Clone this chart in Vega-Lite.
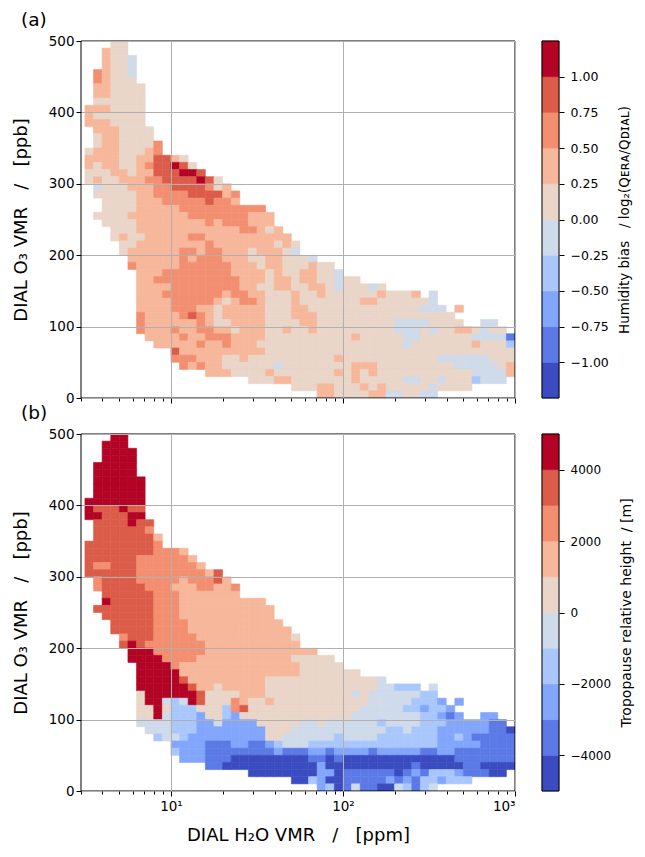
{"$schema":"https://vega.github.io/schema/vega-lite/v6.json","background":"white","padding":{"left":12,"top":10,"right":6,"bottom":6},"bounds":"flush","columns":2,"spacing":{"row":36,"column":27},"config":{"font":"DejaVu Sans","view":{"stroke":null},"axis":{"labelFont":"DejaVu Sans","titleFont":"DejaVu Sans","labelColor":"black","titleColor":"black","tickColor":"black","titleFontWeight":"normal"},"title":{"font":"DejaVu Sans","fontWeight":"normal"}},
"datasets":{"xb":[{"i":0,"x0":3.162,"x1":3.548},{"i":1,"x0":3.548,"x1":3.981},{"i":2,"x0":3.981,"x1":4.467},{"i":3,"x0":4.467,"x1":5.012},{"i":4,"x0":5.012,"x1":5.623},{"i":5,"x0":5.623,"x1":6.31},{"i":6,"x0":6.31,"x1":7.079},{"i":7,"x0":7.079,"x1":7.943},{"i":8,"x0":7.943,"x1":8.913},{"i":9,"x0":8.913,"x1":10},{"i":10,"x0":10,"x1":11.22},{"i":11,"x0":11.22,"x1":12.59},{"i":12,"x0":12.59,"x1":14.13},{"i":13,"x0":14.13,"x1":15.85},{"i":14,"x0":15.85,"x1":17.78},{"i":15,"x0":17.78,"x1":19.95},{"i":16,"x0":19.95,"x1":22.39},{"i":17,"x0":22.39,"x1":25.12},{"i":18,"x0":25.12,"x1":28.18},{"i":19,"x0":28.18,"x1":31.62},{"i":20,"x0":31.62,"x1":35.48},{"i":21,"x0":35.48,"x1":39.81},{"i":22,"x0":39.81,"x1":44.67},{"i":23,"x0":44.67,"x1":50.12},{"i":24,"x0":50.12,"x1":56.23},{"i":25,"x0":56.23,"x1":63.1},{"i":26,"x0":63.1,"x1":70.79},{"i":27,"x0":70.79,"x1":79.43},{"i":28,"x0":79.43,"x1":89.13},{"i":29,"x0":89.13,"x1":100},{"i":30,"x0":100,"x1":112.2},{"i":31,"x0":112.2,"x1":125.9},{"i":32,"x0":125.9,"x1":141.3},{"i":33,"x0":141.3,"x1":158.5},{"i":34,"x0":158.5,"x1":177.8},{"i":35,"x0":177.8,"x1":199.5},{"i":36,"x0":199.5,"x1":223.9},{"i":37,"x0":223.9,"x1":251.2},{"i":38,"x0":251.2,"x1":281.8},{"i":39,"x0":281.8,"x1":316.2},{"i":40,"x0":316.2,"x1":354.8},{"i":41,"x0":354.8,"x1":398.1},{"i":42,"x0":398.1,"x1":446.7},{"i":43,"x0":446.7,"x1":501.2},{"i":44,"x0":501.2,"x1":562.3},{"i":45,"x0":562.3,"x1":631},{"i":46,"x0":631,"x1":707.9},{"i":47,"x0":707.9,"x1":794.3},{"i":48,"x0":794.3,"x1":891.3},{"i":49,"x0":891.3,"x1":1000}],
"yb":[{"j":0,"y0":0,"y1":10},{"j":1,"y0":10,"y1":20},{"j":2,"y0":20,"y1":30},{"j":3,"y0":30,"y1":40},{"j":4,"y0":40,"y1":50},{"j":5,"y0":50,"y1":60},{"j":6,"y0":60,"y1":70},{"j":7,"y0":70,"y1":80},{"j":8,"y0":80,"y1":90},{"j":9,"y0":90,"y1":100},{"j":10,"y0":100,"y1":110},{"j":11,"y0":110,"y1":120},{"j":12,"y0":120,"y1":130},{"j":13,"y0":130,"y1":140},{"j":14,"y0":140,"y1":150},{"j":15,"y0":150,"y1":160},{"j":16,"y0":160,"y1":170},{"j":17,"y0":170,"y1":180},{"j":18,"y0":180,"y1":190},{"j":19,"y0":190,"y1":200},{"j":20,"y0":200,"y1":210},{"j":21,"y0":210,"y1":220},{"j":22,"y0":220,"y1":230},{"j":23,"y0":230,"y1":240},{"j":24,"y0":240,"y1":250},{"j":25,"y0":250,"y1":260},{"j":26,"y0":260,"y1":270},{"j":27,"y0":270,"y1":280},{"j":28,"y0":280,"y1":290},{"j":29,"y0":290,"y1":300},{"j":30,"y0":300,"y1":310},{"j":31,"y0":310,"y1":320},{"j":32,"y0":320,"y1":330},{"j":33,"y0":330,"y1":340},{"j":34,"y0":340,"y1":350},{"j":35,"y0":350,"y1":360},{"j":36,"y0":360,"y1":370},{"j":37,"y0":370,"y1":380},{"j":38,"y0":380,"y1":390},{"j":39,"y0":390,"y1":400},{"j":40,"y0":400,"y1":410},{"j":41,"y0":410,"y1":420},{"j":42,"y0":420,"y1":430},{"j":43,"y0":430,"y1":440},{"j":44,"y0":440,"y1":450},{"j":45,"y0":450,"y1":460},{"j":46,"y0":460,"y1":470},{"j":47,"y0":470,"y1":480},{"j":48,"y0":480,"y1":490},{"j":49,"y0":490,"y1":500}],
"a":[
{"i":3,"j":49,"v":0.125},{"i":4,"j":49,"v":0.125},
{"i":2,"j":48,"v":0.375},{"i":3,"j":48,"v":0.125},{"i":4,"j":48,"v":0.125},
{"i":2,"j":47,"v":0.375},{"i":3,"j":47,"v":0.125},{"i":4,"j":47,"v":0.125},{"i":5,"j":47,"v":-0.125},
{"i":2,"j":46,"v":0.375},{"i":3,"j":46,"v":0.125},{"i":4,"j":46,"v":0.125},{"i":5,"j":46,"v":-0.125},
{"i":1,"j":45,"v":0.625},{"i":2,"j":45,"v":0.375},{"i":3,"j":45,"v":0.125},{"i":4,"j":45,"v":0.125},{"i":5,"j":45,"v":-0.125},
{"i":1,"j":44,"v":0.625},{"i":2,"j":44,"v":0.375},{"i":3,"j":44,"v":0.125},{"i":4,"j":44,"v":0.125},{"i":5,"j":44,"v":0.125},
{"i":1,"j":43,"v":0.375},{"i":2,"j":43,"v":0.375},{"i":3,"j":43,"v":0.125},{"i":4,"j":43,"v":0.125},{"i":5,"j":43,"v":0.125},{"i":6,"j":43,"v":0.125},
{"i":1,"j":42,"v":0.375},{"i":2,"j":42,"v":0.375},{"i":3,"j":42,"v":0.125},{"i":4,"j":42,"v":0.125},{"i":5,"j":42,"v":0.125},{"i":6,"j":42,"v":0.125},
{"i":1,"j":41,"v":0.125},{"i":2,"j":41,"v":0.125},{"i":3,"j":41,"v":0.125},{"i":4,"j":41,"v":0.125},{"i":5,"j":41,"v":0.125},{"i":6,"j":41,"v":0.125},
{"i":0,"j":40,"v":0.375},{"i":1,"j":40,"v":0.375},{"i":2,"j":40,"v":0.375},{"i":3,"j":40,"v":0.125},{"i":4,"j":40,"v":0.125},{"i":5,"j":40,"v":0.125},{"i":6,"j":40,"v":0.125},
{"i":0,"j":39,"v":0.375},{"i":1,"j":39,"v":0.125},{"i":2,"j":39,"v":0.125},{"i":3,"j":39,"v":0.125},{"i":4,"j":39,"v":0.125},{"i":5,"j":39,"v":0.125},{"i":6,"j":39,"v":0.125},
{"i":0,"j":38,"v":0.375},{"i":1,"j":38,"v":0.375},{"i":2,"j":38,"v":0.375},{"i":3,"j":38,"v":0.125},{"i":4,"j":38,"v":0.125},{"i":5,"j":38,"v":0.125},{"i":6,"j":38,"v":0.125},
{"i":1,"j":37,"v":0.375},{"i":2,"j":37,"v":0.375},{"i":3,"j":37,"v":0.375},{"i":4,"j":37,"v":0.125},{"i":5,"j":37,"v":0.125},{"i":6,"j":37,"v":0.125},{"i":7,"j":37,"v":0.125},
{"i":1,"j":36,"v":0.125},{"i":2,"j":36,"v":0.375},{"i":3,"j":36,"v":0.375},{"i":4,"j":36,"v":0.125},{"i":5,"j":36,"v":0.125},{"i":6,"j":36,"v":0.125},{"i":7,"j":36,"v":0.125},
{"i":1,"j":35,"v":0.125},{"i":2,"j":35,"v":0.375},{"i":3,"j":35,"v":0.375},{"i":4,"j":35,"v":0.125},{"i":5,"j":35,"v":0.125},{"i":6,"j":35,"v":0.125},{"i":7,"j":35,"v":0.125},{"i":8,"j":35,"v":0.625},
{"i":0,"j":34,"v":0.125},{"i":1,"j":34,"v":0.375},{"i":2,"j":34,"v":0.375},{"i":3,"j":34,"v":0.375},{"i":4,"j":34,"v":0.125},{"i":5,"j":34,"v":0.125},{"i":6,"j":34,"v":0.125},{"i":7,"j":34,"v":0.375},{"i":8,"j":34,"v":0.625},
{"i":0,"j":33,"v":0.375},{"i":1,"j":33,"v":0.375},{"i":2,"j":33,"v":0.375},{"i":3,"j":33,"v":0.375},{"i":4,"j":33,"v":0.125},{"i":5,"j":33,"v":0.125},{"i":6,"j":33,"v":0.375},{"i":7,"j":33,"v":0.375},{"i":8,"j":33,"v":0.875},{"i":9,"j":33,"v":0.875},{"i":10,"j":33,"v":0.375},{"i":11,"j":33,"v":0.125},
{"i":0,"j":32,"v":0.375},{"i":1,"j":32,"v":0.125},{"i":2,"j":32,"v":0.375},{"i":3,"j":32,"v":0.375},{"i":4,"j":32,"v":0.125},{"i":5,"j":32,"v":0.125},{"i":6,"j":32,"v":0.375},{"i":7,"j":32,"v":0.625},{"i":8,"j":32,"v":0.875},{"i":9,"j":32,"v":0.875},{"i":10,"j":32,"v":1.125},{"i":11,"j":32,"v":0.875},{"i":12,"j":32,"v":0.125},
{"i":0,"j":31,"v":0.125},{"i":1,"j":31,"v":0.125},{"i":2,"j":31,"v":0.125},{"i":3,"j":31,"v":0.375},{"i":4,"j":31,"v":0.375},{"i":5,"j":31,"v":0.125},{"i":6,"j":31,"v":0.375},{"i":7,"j":31,"v":0.375},{"i":8,"j":31,"v":0.875},{"i":9,"j":31,"v":0.875},{"i":10,"j":31,"v":0.875},{"i":11,"j":31,"v":1.125},{"i":12,"j":31,"v":1.125},{"i":13,"j":31,"v":0.875},
{"i":0,"j":30,"v":0.125},{"i":1,"j":30,"v":0.375},{"i":2,"j":30,"v":0.125},{"i":3,"j":30,"v":0.125},{"i":4,"j":30,"v":0.375},{"i":5,"j":30,"v":0.375},{"i":6,"j":30,"v":0.375},{"i":7,"j":30,"v":0.625},{"i":8,"j":30,"v":0.625},{"i":9,"j":30,"v":0.875},{"i":10,"j":30,"v":0.875},{"i":11,"j":30,"v":0.875},{"i":12,"j":30,"v":0.875},{"i":13,"j":30,"v":1.125},{"i":14,"j":30,"v":0.875},{"i":15,"j":30,"v":0.125},
{"i":1,"j":29,"v":-0.125},{"i":2,"j":29,"v":0.125},{"i":3,"j":29,"v":0.125},{"i":4,"j":29,"v":0.125},{"i":5,"j":29,"v":0.375},{"i":6,"j":29,"v":0.375},{"i":7,"j":29,"v":0.375},{"i":8,"j":29,"v":0.625},{"i":9,"j":29,"v":0.625},{"i":10,"j":29,"v":0.875},{"i":11,"j":29,"v":0.875},{"i":12,"j":29,"v":0.875},{"i":13,"j":29,"v":0.875},{"i":14,"j":29,"v":0.625},{"i":15,"j":29,"v":0.125},{"i":16,"j":29,"v":0.375},
{"i":1,"j":28,"v":0.125},{"i":2,"j":28,"v":0.125},{"i":3,"j":28,"v":0.125},{"i":4,"j":28,"v":0.125},{"i":5,"j":28,"v":0.125},{"i":6,"j":28,"v":0.375},{"i":7,"j":28,"v":0.375},{"i":8,"j":28,"v":0.625},{"i":9,"j":28,"v":0.625},{"i":10,"j":28,"v":0.625},{"i":11,"j":28,"v":0.625},{"i":12,"j":28,"v":0.875},{"i":13,"j":28,"v":0.875},{"i":14,"j":28,"v":0.875},{"i":15,"j":28,"v":0.875},{"i":16,"j":28,"v":0.375},{"i":17,"j":28,"v":0.625},
{"i":2,"j":27,"v":0.125},{"i":3,"j":27,"v":0.125},{"i":4,"j":27,"v":0.125},{"i":5,"j":27,"v":0.125},{"i":6,"j":27,"v":0.375},{"i":7,"j":27,"v":0.375},{"i":8,"j":27,"v":0.375},{"i":9,"j":27,"v":0.625},{"i":10,"j":27,"v":0.625},{"i":11,"j":27,"v":0.625},{"i":12,"j":27,"v":0.625},{"i":13,"j":27,"v":0.625},{"i":14,"j":27,"v":0.875},{"i":15,"j":27,"v":0.625},{"i":16,"j":27,"v":0.625},{"i":17,"j":27,"v":0.375},
{"i":2,"j":26,"v":0.125},{"i":3,"j":26,"v":0.125},{"i":4,"j":26,"v":0.125},{"i":5,"j":26,"v":0.125},{"i":6,"j":26,"v":0.375},{"i":7,"j":26,"v":0.375},{"i":8,"j":26,"v":0.375},{"i":9,"j":26,"v":0.375},{"i":10,"j":26,"v":0.375},{"i":11,"j":26,"v":0.625},{"i":12,"j":26,"v":0.625},{"i":13,"j":26,"v":0.625},{"i":14,"j":26,"v":0.625},{"i":15,"j":26,"v":0.625},{"i":16,"j":26,"v":0.625},{"i":17,"j":26,"v":0.625},{"i":18,"j":26,"v":0.625},{"i":19,"j":26,"v":0.625},{"i":20,"j":26,"v":0.625},
{"i":1,"j":25,"v":0.125},{"i":2,"j":25,"v":0.125},{"i":3,"j":25,"v":0.125},{"i":4,"j":25,"v":0.125},{"i":5,"j":25,"v":0.375},{"i":6,"j":25,"v":0.375},{"i":7,"j":25,"v":0.375},{"i":8,"j":25,"v":0.375},{"i":9,"j":25,"v":0.375},{"i":10,"j":25,"v":0.375},{"i":11,"j":25,"v":0.375},{"i":12,"j":25,"v":0.625},{"i":13,"j":25,"v":0.625},{"i":14,"j":25,"v":0.625},{"i":15,"j":25,"v":0.625},{"i":16,"j":25,"v":0.625},{"i":17,"j":25,"v":0.625},{"i":18,"j":25,"v":0.625},{"i":19,"j":25,"v":0.375},{"i":20,"j":25,"v":0.375},{"i":21,"j":25,"v":0.375},
{"i":2,"j":24,"v":0.125},{"i":3,"j":24,"v":0.125},{"i":4,"j":24,"v":0.125},{"i":5,"j":24,"v":0.125},{"i":6,"j":24,"v":0.375},{"i":7,"j":24,"v":0.375},{"i":8,"j":24,"v":0.375},{"i":9,"j":24,"v":0.375},{"i":10,"j":24,"v":0.375},{"i":11,"j":24,"v":0.375},{"i":12,"j":24,"v":0.375},{"i":13,"j":24,"v":0.375},{"i":14,"j":24,"v":0.625},{"i":15,"j":24,"v":0.375},{"i":16,"j":24,"v":0.625},{"i":17,"j":24,"v":0.625},{"i":18,"j":24,"v":0.625},{"i":19,"j":24,"v":0.375},{"i":20,"j":24,"v":0.375},{"i":21,"j":24,"v":0.375},
{"i":3,"j":23,"v":0.125},{"i":4,"j":23,"v":0.125},{"i":5,"j":23,"v":0.125},{"i":6,"j":23,"v":0.375},{"i":7,"j":23,"v":0.375},{"i":8,"j":23,"v":0.375},{"i":9,"j":23,"v":0.375},{"i":10,"j":23,"v":0.375},{"i":11,"j":23,"v":0.375},{"i":12,"j":23,"v":0.375},{"i":13,"j":23,"v":0.375},{"i":14,"j":23,"v":0.375},{"i":15,"j":23,"v":0.375},{"i":16,"j":23,"v":0.375},{"i":17,"j":23,"v":0.375},{"i":18,"j":23,"v":0.625},{"i":19,"j":23,"v":0.625},{"i":20,"j":23,"v":0.375},{"i":21,"j":23,"v":0.125},{"i":22,"j":23,"v":0.375},
{"i":3,"j":22,"v":0.125},{"i":4,"j":22,"v":0.375},{"i":5,"j":22,"v":0.125},{"i":6,"j":22,"v":0.125},{"i":7,"j":22,"v":0.375},{"i":8,"j":22,"v":0.375},{"i":9,"j":22,"v":0.375},{"i":10,"j":22,"v":0.375},{"i":11,"j":22,"v":0.375},{"i":12,"j":22,"v":0.625},{"i":13,"j":22,"v":0.625},{"i":14,"j":22,"v":0.375},{"i":15,"j":22,"v":0.375},{"i":16,"j":22,"v":0.375},{"i":17,"j":22,"v":0.375},{"i":18,"j":22,"v":0.375},{"i":19,"j":22,"v":0.375},{"i":20,"j":22,"v":0.375},{"i":21,"j":22,"v":0.375},{"i":22,"j":22,"v":0.375},{"i":23,"j":22,"v":0.375},
{"i":4,"j":21,"v":0.125},{"i":5,"j":21,"v":0.125},{"i":6,"j":21,"v":0.375},{"i":7,"j":21,"v":0.375},{"i":8,"j":21,"v":0.375},{"i":9,"j":21,"v":0.375},{"i":10,"j":21,"v":0.375},{"i":11,"j":21,"v":0.375},{"i":12,"j":21,"v":0.375},{"i":13,"j":21,"v":0.375},{"i":14,"j":21,"v":0.625},{"i":15,"j":21,"v":0.375},{"i":16,"j":21,"v":0.375},{"i":17,"j":21,"v":0.375},{"i":18,"j":21,"v":0.375},{"i":19,"j":21,"v":0.375},{"i":20,"j":21,"v":0.375},{"i":21,"j":21,"v":0.375},{"i":22,"j":21,"v":0.125},{"i":23,"j":21,"v":0.375},{"i":24,"j":21,"v":0.125},
{"i":4,"j":20,"v":0.125},{"i":5,"j":20,"v":0.375},{"i":6,"j":20,"v":0.375},{"i":7,"j":20,"v":0.375},{"i":8,"j":20,"v":0.375},{"i":9,"j":20,"v":0.375},{"i":10,"j":20,"v":0.375},{"i":11,"j":20,"v":0.625},{"i":12,"j":20,"v":0.625},{"i":13,"j":20,"v":0.375},{"i":14,"j":20,"v":0.625},{"i":15,"j":20,"v":0.625},{"i":16,"j":20,"v":0.375},{"i":17,"j":20,"v":0.375},{"i":18,"j":20,"v":0.375},{"i":19,"j":20,"v":0.125},{"i":20,"j":20,"v":0.375},{"i":21,"j":20,"v":0.375},{"i":22,"j":20,"v":0.375},{"i":23,"j":20,"v":0.125},{"i":24,"j":20,"v":-0.125},
{"i":5,"j":19,"v":0.375},{"i":6,"j":19,"v":0.375},{"i":7,"j":19,"v":0.375},{"i":8,"j":19,"v":0.375},{"i":9,"j":19,"v":0.375},{"i":10,"j":19,"v":0.375},{"i":11,"j":19,"v":0.625},{"i":12,"j":19,"v":0.375},{"i":13,"j":19,"v":0.625},{"i":14,"j":19,"v":0.625},{"i":15,"j":19,"v":0.625},{"i":16,"j":19,"v":0.375},{"i":17,"j":19,"v":0.375},{"i":18,"j":19,"v":0.375},{"i":19,"j":19,"v":0.125},{"i":20,"j":19,"v":0.125},{"i":21,"j":19,"v":0.375},{"i":22,"j":19,"v":0.375},{"i":23,"j":19,"v":0.125},{"i":24,"j":19,"v":0.125},{"i":25,"j":19,"v":0.125},{"i":26,"j":19,"v":-0.125},
{"i":5,"j":18,"v":0.625},{"i":6,"j":18,"v":0.375},{"i":7,"j":18,"v":0.375},{"i":8,"j":18,"v":0.375},{"i":9,"j":18,"v":0.375},{"i":10,"j":18,"v":0.375},{"i":11,"j":18,"v":0.625},{"i":12,"j":18,"v":0.625},{"i":13,"j":18,"v":0.625},{"i":14,"j":18,"v":0.625},{"i":15,"j":18,"v":0.625},{"i":16,"j":18,"v":0.625},{"i":17,"j":18,"v":0.375},{"i":18,"j":18,"v":0.375},{"i":19,"j":18,"v":0.375},{"i":20,"j":18,"v":0.125},{"i":21,"j":18,"v":0.375},{"i":22,"j":18,"v":0.375},{"i":23,"j":18,"v":0.125},{"i":24,"j":18,"v":0.125},{"i":25,"j":18,"v":0.125},{"i":26,"j":18,"v":0.375},{"i":27,"j":18,"v":0.125},{"i":28,"j":18,"v":0.125},
{"i":6,"j":17,"v":0.375},{"i":7,"j":17,"v":0.375},{"i":8,"j":17,"v":0.375},{"i":9,"j":17,"v":0.625},{"i":10,"j":17,"v":0.625},{"i":11,"j":17,"v":0.625},{"i":12,"j":17,"v":0.625},{"i":13,"j":17,"v":0.625},{"i":14,"j":17,"v":0.625},{"i":15,"j":17,"v":0.625},{"i":16,"j":17,"v":0.625},{"i":17,"j":17,"v":0.375},{"i":18,"j":17,"v":0.375},{"i":19,"j":17,"v":0.375},{"i":20,"j":17,"v":0.375},{"i":21,"j":17,"v":0.125},{"i":22,"j":17,"v":0.375},{"i":23,"j":17,"v":0.125},{"i":24,"j":17,"v":0.125},{"i":25,"j":17,"v":0.375},{"i":26,"j":17,"v":0.375},{"i":27,"j":17,"v":0.125},{"i":28,"j":17,"v":0.125},{"i":29,"j":17,"v":-0.125},
{"i":6,"j":16,"v":0.375},{"i":7,"j":16,"v":0.375},{"i":8,"j":16,"v":0.625},{"i":9,"j":16,"v":0.625},{"i":10,"j":16,"v":0.625},{"i":11,"j":16,"v":0.625},{"i":12,"j":16,"v":0.625},{"i":13,"j":16,"v":0.625},{"i":14,"j":16,"v":0.625},{"i":15,"j":16,"v":0.625},{"i":16,"j":16,"v":0.625},{"i":17,"j":16,"v":0.625},{"i":18,"j":16,"v":0.375},{"i":19,"j":16,"v":0.375},{"i":20,"j":16,"v":0.375},{"i":21,"j":16,"v":0.125},{"i":22,"j":16,"v":0.375},{"i":23,"j":16,"v":0.375},{"i":24,"j":16,"v":0.125},{"i":25,"j":16,"v":0.375},{"i":26,"j":16,"v":0.375},{"i":27,"j":16,"v":0.125},{"i":28,"j":16,"v":0.125},{"i":29,"j":16,"v":-0.125},{"i":30,"j":16,"v":0.125},{"i":31,"j":16,"v":0.125},
{"i":6,"j":15,"v":0.375},{"i":7,"j":15,"v":0.375},{"i":8,"j":15,"v":0.375},{"i":9,"j":15,"v":0.375},{"i":10,"j":15,"v":0.625},{"i":11,"j":15,"v":0.625},{"i":12,"j":15,"v":0.625},{"i":13,"j":15,"v":0.625},{"i":14,"j":15,"v":0.625},{"i":15,"j":15,"v":0.625},{"i":16,"j":15,"v":0.625},{"i":17,"j":15,"v":0.625},{"i":18,"j":15,"v":0.375},{"i":19,"j":15,"v":0.375},{"i":20,"j":15,"v":0.125},{"i":21,"j":15,"v":0.125},{"i":22,"j":15,"v":0.375},{"i":23,"j":15,"v":0.375},{"i":24,"j":15,"v":0.125},{"i":25,"j":15,"v":0.125},{"i":26,"j":15,"v":0.375},{"i":27,"j":15,"v":0.375},{"i":28,"j":15,"v":0.125},{"i":29,"j":15,"v":-0.125},{"i":30,"j":15,"v":0.125},{"i":31,"j":15,"v":0.125},{"i":32,"j":15,"v":0.125},{"i":33,"j":15,"v":-0.125},{"i":34,"j":15,"v":0.125},
{"i":6,"j":14,"v":0.375},{"i":7,"j":14,"v":0.375},{"i":8,"j":14,"v":0.375},{"i":9,"j":14,"v":0.625},{"i":10,"j":14,"v":0.625},{"i":11,"j":14,"v":0.625},{"i":12,"j":14,"v":0.625},{"i":13,"j":14,"v":0.625},{"i":14,"j":14,"v":0.625},{"i":15,"j":14,"v":0.625},{"i":16,"j":14,"v":0.375},{"i":17,"j":14,"v":0.625},{"i":18,"j":14,"v":0.625},{"i":19,"j":14,"v":0.375},{"i":20,"j":14,"v":0.375},{"i":21,"j":14,"v":0.125},{"i":22,"j":14,"v":0.125},{"i":23,"j":14,"v":0.125},{"i":24,"j":14,"v":0.375},{"i":25,"j":14,"v":0.125},{"i":26,"j":14,"v":0.125},{"i":27,"j":14,"v":0.375},{"i":28,"j":14,"v":0.125},{"i":29,"j":14,"v":0.125},{"i":30,"j":14,"v":0.125},{"i":31,"j":14,"v":0.125},{"i":32,"j":14,"v":0.125},{"i":33,"j":14,"v":0.125},{"i":34,"j":14,"v":0.375},{"i":35,"j":14,"v":0.125},{"i":36,"j":14,"v":0.125},{"i":37,"j":14,"v":0.125},{"i":38,"j":14,"v":0.375},{"i":40,"j":14,"v":-0.125},
{"i":6,"j":13,"v":0.375},{"i":7,"j":13,"v":0.375},{"i":8,"j":13,"v":0.375},{"i":9,"j":13,"v":0.375},{"i":10,"j":13,"v":0.625},{"i":11,"j":13,"v":0.625},{"i":12,"j":13,"v":0.625},{"i":13,"j":13,"v":0.625},{"i":14,"j":13,"v":0.625},{"i":15,"j":13,"v":0.375},{"i":16,"j":13,"v":0.125},{"i":17,"j":13,"v":0.375},{"i":18,"j":13,"v":0.625},{"i":19,"j":13,"v":0.625},{"i":20,"j":13,"v":0.375},{"i":21,"j":13,"v":0.125},{"i":22,"j":13,"v":0.125},{"i":23,"j":13,"v":0.125},{"i":24,"j":13,"v":0.375},{"i":25,"j":13,"v":0.125},{"i":26,"j":13,"v":0.125},{"i":27,"j":13,"v":0.125},{"i":28,"j":13,"v":0.125},{"i":29,"j":13,"v":0.125},{"i":30,"j":13,"v":0.125},{"i":31,"j":13,"v":0.125},{"i":32,"j":13,"v":0.375},{"i":33,"j":13,"v":0.375},{"i":34,"j":13,"v":0.125},{"i":35,"j":13,"v":0.125},{"i":36,"j":13,"v":0.125},{"i":37,"j":13,"v":0.125},{"i":38,"j":13,"v":0.125},{"i":39,"j":13,"v":0.125},{"i":40,"j":13,"v":-0.125},
{"i":6,"j":12,"v":0.375},{"i":7,"j":12,"v":0.375},{"i":8,"j":12,"v":0.375},{"i":9,"j":12,"v":0.375},{"i":10,"j":12,"v":0.625},{"i":11,"j":12,"v":0.625},{"i":12,"j":12,"v":0.625},{"i":13,"j":12,"v":0.375},{"i":14,"j":12,"v":0.375},{"i":15,"j":12,"v":0.125},{"i":16,"j":12,"v":0.375},{"i":17,"j":12,"v":0.375},{"i":18,"j":12,"v":0.375},{"i":19,"j":12,"v":0.375},{"i":20,"j":12,"v":0.375},{"i":21,"j":12,"v":0.125},{"i":22,"j":12,"v":0.125},{"i":23,"j":12,"v":0.125},{"i":24,"j":12,"v":0.375},{"i":25,"j":12,"v":0.375},{"i":26,"j":12,"v":0.125},{"i":27,"j":12,"v":0.125},{"i":28,"j":12,"v":0.125},{"i":29,"j":12,"v":0.125},{"i":30,"j":12,"v":0.125},{"i":31,"j":12,"v":0.125},{"i":32,"j":12,"v":0.125},{"i":33,"j":12,"v":0.125},{"i":34,"j":12,"v":0.125},{"i":35,"j":12,"v":0.125},{"i":36,"j":12,"v":0.125},{"i":37,"j":12,"v":0.125},{"i":38,"j":12,"v":0.125},{"i":39,"j":12,"v":-0.125},{"i":40,"j":12,"v":-0.125},{"i":41,"j":12,"v":-0.125},{"i":43,"j":12,"v":0.375},
{"i":6,"j":11,"v":0.625},{"i":7,"j":11,"v":0.375},{"i":8,"j":11,"v":0.375},{"i":9,"j":11,"v":0.375},{"i":10,"j":11,"v":0.375},{"i":11,"j":11,"v":0.625},{"i":12,"j":11,"v":0.875},{"i":13,"j":11,"v":0.625},{"i":14,"j":11,"v":0.375},{"i":15,"j":11,"v":0.125},{"i":16,"j":11,"v":0.375},{"i":17,"j":11,"v":0.375},{"i":18,"j":11,"v":0.375},{"i":19,"j":11,"v":0.375},{"i":20,"j":11,"v":0.375},{"i":21,"j":11,"v":0.125},{"i":22,"j":11,"v":0.125},{"i":23,"j":11,"v":0.125},{"i":24,"j":11,"v":0.375},{"i":25,"j":11,"v":0.375},{"i":26,"j":11,"v":0.375},{"i":27,"j":11,"v":0.125},{"i":28,"j":11,"v":0.125},{"i":29,"j":11,"v":0.125},{"i":30,"j":11,"v":0.125},{"i":31,"j":11,"v":0.125},{"i":32,"j":11,"v":0.125},{"i":33,"j":11,"v":0.125},{"i":34,"j":11,"v":0.125},{"i":35,"j":11,"v":0.125},{"i":36,"j":11,"v":0.125},{"i":37,"j":11,"v":0.125},{"i":38,"j":11,"v":0.125},{"i":39,"j":11,"v":0.125},{"i":40,"j":11,"v":0.125},{"i":41,"j":11,"v":0.125},{"i":42,"j":11,"v":0.125},
{"i":6,"j":10,"v":0.625},{"i":7,"j":10,"v":0.375},{"i":8,"j":10,"v":0.375},{"i":9,"j":10,"v":0.375},{"i":10,"j":10,"v":0.375},{"i":11,"j":10,"v":0.375},{"i":12,"j":10,"v":0.375},{"i":13,"j":10,"v":0.625},{"i":14,"j":10,"v":0.375},{"i":15,"j":10,"v":0.125},{"i":16,"j":10,"v":0.125},{"i":17,"j":10,"v":0.375},{"i":18,"j":10,"v":0.375},{"i":19,"j":10,"v":0.375},{"i":20,"j":10,"v":0.375},{"i":21,"j":10,"v":0.125},{"i":22,"j":10,"v":0.125},{"i":23,"j":10,"v":0.125},{"i":24,"j":10,"v":0.125},{"i":25,"j":10,"v":0.375},{"i":26,"j":10,"v":0.375},{"i":27,"j":10,"v":0.125},{"i":28,"j":10,"v":0.125},{"i":29,"j":10,"v":0.125},{"i":30,"j":10,"v":0.125},{"i":31,"j":10,"v":0.125},{"i":32,"j":10,"v":0.125},{"i":33,"j":10,"v":0.125},{"i":34,"j":10,"v":0.125},{"i":35,"j":10,"v":0.125},{"i":36,"j":10,"v":-0.125},{"i":37,"j":10,"v":-0.125},{"i":38,"j":10,"v":-0.125},{"i":39,"j":10,"v":-0.125},{"i":40,"j":10,"v":0.125},{"i":41,"j":10,"v":0.125},{"i":42,"j":10,"v":0.125},{"i":43,"j":10,"v":0.125},{"i":46,"j":10,"v":-0.125},{"i":47,"j":10,"v":-0.125},
{"i":6,"j":9,"v":0.625},{"i":7,"j":9,"v":0.375},{"i":8,"j":9,"v":0.375},{"i":9,"j":9,"v":0.375},{"i":10,"j":9,"v":0.625},{"i":11,"j":9,"v":0.375},{"i":12,"j":9,"v":0.375},{"i":13,"j":9,"v":0.625},{"i":14,"j":9,"v":0.625},{"i":15,"j":9,"v":0.375},{"i":16,"j":9,"v":0.375},{"i":17,"j":9,"v":0.125},{"i":18,"j":9,"v":0.375},{"i":19,"j":9,"v":0.375},{"i":20,"j":9,"v":0.375},{"i":21,"j":9,"v":0.125},{"i":22,"j":9,"v":0.125},{"i":23,"j":9,"v":0.375},{"i":24,"j":9,"v":0.125},{"i":25,"j":9,"v":0.125},{"i":26,"j":9,"v":0.375},{"i":27,"j":9,"v":0.125},{"i":28,"j":9,"v":0.125},{"i":29,"j":9,"v":0.125},{"i":30,"j":9,"v":0.125},{"i":31,"j":9,"v":0.125},{"i":32,"j":9,"v":0.125},{"i":33,"j":9,"v":0.125},{"i":34,"j":9,"v":0.125},{"i":35,"j":9,"v":0.125},{"i":36,"j":9,"v":-0.125},{"i":37,"j":9,"v":-0.125},{"i":38,"j":9,"v":-0.125},{"i":39,"j":9,"v":0.125},{"i":40,"j":9,"v":-0.125},{"i":41,"j":9,"v":0.125},{"i":42,"j":9,"v":0.125},{"i":43,"j":9,"v":0.375},{"i":44,"j":9,"v":0.375},{"i":45,"j":9,"v":0.125},{"i":46,"j":9,"v":-0.125},{"i":47,"j":9,"v":0.125},{"i":48,"j":9,"v":0.125},
{"i":7,"j":8,"v":0.375},{"i":8,"j":8,"v":0.375},{"i":9,"j":8,"v":0.375},{"i":10,"j":8,"v":0.375},{"i":11,"j":8,"v":0.625},{"i":12,"j":8,"v":0.375},{"i":13,"j":8,"v":0.375},{"i":14,"j":8,"v":0.625},{"i":15,"j":8,"v":0.625},{"i":16,"j":8,"v":0.625},{"i":17,"j":8,"v":0.375},{"i":18,"j":8,"v":0.375},{"i":19,"j":8,"v":0.375},{"i":20,"j":8,"v":0.375},{"i":21,"j":8,"v":0.125},{"i":22,"j":8,"v":0.125},{"i":23,"j":8,"v":0.125},{"i":24,"j":8,"v":0.125},{"i":25,"j":8,"v":0.125},{"i":26,"j":8,"v":0.125},{"i":27,"j":8,"v":0.125},{"i":28,"j":8,"v":0.125},{"i":29,"j":8,"v":0.125},{"i":30,"j":8,"v":0.125},{"i":31,"j":8,"v":0.375},{"i":32,"j":8,"v":0.125},{"i":33,"j":8,"v":0.125},{"i":34,"j":8,"v":0.125},{"i":35,"j":8,"v":0.125},{"i":36,"j":8,"v":0.125},{"i":37,"j":8,"v":-0.125},{"i":38,"j":8,"v":-0.125},{"i":39,"j":8,"v":0.125},{"i":40,"j":8,"v":0.125},{"i":41,"j":8,"v":0.125},{"i":42,"j":8,"v":0.125},{"i":43,"j":8,"v":0.125},{"i":44,"j":8,"v":0.125},{"i":45,"j":8,"v":-0.125},{"i":46,"j":8,"v":-0.125},{"i":47,"j":8,"v":-0.125},{"i":48,"j":8,"v":-0.125},{"i":49,"j":8,"v":-0.875},
{"i":8,"j":7,"v":0.375},{"i":9,"j":7,"v":0.375},{"i":10,"j":7,"v":0.375},{"i":11,"j":7,"v":0.375},{"i":12,"j":7,"v":0.375},{"i":13,"j":7,"v":0.625},{"i":14,"j":7,"v":0.375},{"i":15,"j":7,"v":0.375},{"i":16,"j":7,"v":0.625},{"i":17,"j":7,"v":0.375},{"i":18,"j":7,"v":0.375},{"i":19,"j":7,"v":0.375},{"i":20,"j":7,"v":0.125},{"i":21,"j":7,"v":0.125},{"i":22,"j":7,"v":0.125},{"i":23,"j":7,"v":0.125},{"i":24,"j":7,"v":0.125},{"i":25,"j":7,"v":0.125},{"i":26,"j":7,"v":0.125},{"i":27,"j":7,"v":0.125},{"i":28,"j":7,"v":0.125},{"i":29,"j":7,"v":0.125},{"i":30,"j":7,"v":0.125},{"i":31,"j":7,"v":0.125},{"i":32,"j":7,"v":0.125},{"i":33,"j":7,"v":0.125},{"i":34,"j":7,"v":0.125},{"i":35,"j":7,"v":0.125},{"i":36,"j":7,"v":0.125},{"i":37,"j":7,"v":-0.125},{"i":38,"j":7,"v":0.125},{"i":39,"j":7,"v":0.125},{"i":40,"j":7,"v":0.125},{"i":41,"j":7,"v":0.125},{"i":42,"j":7,"v":0.125},{"i":43,"j":7,"v":0.125},{"i":44,"j":7,"v":0.125},{"i":45,"j":7,"v":0.375},{"i":46,"j":7,"v":0.125},{"i":47,"j":7,"v":0.125},{"i":48,"j":7,"v":0.125},{"i":49,"j":7,"v":-0.375},
{"i":10,"j":6,"v":0.875},{"i":11,"j":6,"v":0.375},{"i":12,"j":6,"v":0.375},{"i":13,"j":6,"v":0.375},{"i":14,"j":6,"v":0.375},{"i":15,"j":6,"v":0.375},{"i":16,"j":6,"v":0.375},{"i":17,"j":6,"v":0.375},{"i":18,"j":6,"v":0.375},{"i":19,"j":6,"v":0.375},{"i":20,"j":6,"v":0.375},{"i":21,"j":6,"v":0.125},{"i":22,"j":6,"v":0.125},{"i":23,"j":6,"v":0.125},{"i":24,"j":6,"v":0.125},{"i":25,"j":6,"v":0.125},{"i":26,"j":6,"v":0.125},{"i":27,"j":6,"v":0.125},{"i":28,"j":6,"v":0.125},{"i":29,"j":6,"v":0.125},{"i":30,"j":6,"v":0.125},{"i":31,"j":6,"v":0.125},{"i":32,"j":6,"v":0.125},{"i":33,"j":6,"v":0.125},{"i":34,"j":6,"v":0.125},{"i":35,"j":6,"v":0.125},{"i":36,"j":6,"v":0.125},{"i":37,"j":6,"v":0.125},{"i":38,"j":6,"v":0.125},{"i":39,"j":6,"v":0.125},{"i":40,"j":6,"v":0.125},{"i":41,"j":6,"v":0.125},{"i":42,"j":6,"v":0.125},{"i":43,"j":6,"v":0.125},{"i":44,"j":6,"v":0.125},{"i":45,"j":6,"v":0.125},{"i":46,"j":6,"v":0.125},{"i":47,"j":6,"v":0.125},{"i":48,"j":6,"v":0.125},{"i":49,"j":6,"v":0.125},
{"i":10,"j":5,"v":0.625},{"i":11,"j":5,"v":0.625},{"i":12,"j":5,"v":0.625},{"i":13,"j":5,"v":0.375},{"i":14,"j":5,"v":0.375},{"i":15,"j":5,"v":0.375},{"i":16,"j":5,"v":0.125},{"i":17,"j":5,"v":0.125},{"i":18,"j":5,"v":0.375},{"i":19,"j":5,"v":0.125},{"i":20,"j":5,"v":0.125},{"i":21,"j":5,"v":0.125},{"i":22,"j":5,"v":0.125},{"i":23,"j":5,"v":0.125},{"i":24,"j":5,"v":0.125},{"i":25,"j":5,"v":0.125},{"i":26,"j":5,"v":0.125},{"i":27,"j":5,"v":0.125},{"i":28,"j":5,"v":0.125},{"i":29,"j":5,"v":0.375},{"i":30,"j":5,"v":0.125},{"i":31,"j":5,"v":0.125},{"i":32,"j":5,"v":0.125},{"i":33,"j":5,"v":0.125},{"i":34,"j":5,"v":0.125},{"i":35,"j":5,"v":0.125},{"i":36,"j":5,"v":0.125},{"i":37,"j":5,"v":0.125},{"i":38,"j":5,"v":0.125},{"i":39,"j":5,"v":0.125},{"i":40,"j":5,"v":0.125},{"i":41,"j":5,"v":-0.125},{"i":42,"j":5,"v":-0.125},{"i":43,"j":5,"v":-0.125},{"i":44,"j":5,"v":-0.125},{"i":45,"j":5,"v":-0.125},{"i":46,"j":5,"v":-0.125},{"i":47,"j":5,"v":0.125},{"i":48,"j":5,"v":0.125},{"i":49,"j":5,"v":0.125},
{"i":11,"j":4,"v":0.625},{"i":12,"j":4,"v":0.375},{"i":13,"j":4,"v":0.625},{"i":14,"j":4,"v":0.375},{"i":15,"j":4,"v":0.375},{"i":16,"j":4,"v":0.125},{"i":17,"j":4,"v":0.125},{"i":18,"j":4,"v":0.125},{"i":19,"j":4,"v":0.125},{"i":20,"j":4,"v":0.125},{"i":21,"j":4,"v":0.125},{"i":22,"j":4,"v":-0.125},{"i":23,"j":4,"v":0.125},{"i":24,"j":4,"v":0.125},{"i":25,"j":4,"v":0.125},{"i":26,"j":4,"v":0.125},{"i":27,"j":4,"v":0.125},{"i":28,"j":4,"v":0.125},{"i":29,"j":4,"v":0.125},{"i":30,"j":4,"v":0.125},{"i":31,"j":4,"v":0.375},{"i":32,"j":4,"v":0.375},{"i":33,"j":4,"v":0.375},{"i":34,"j":4,"v":0.125},{"i":35,"j":4,"v":0.125},{"i":36,"j":4,"v":0.125},{"i":37,"j":4,"v":0.125},{"i":38,"j":4,"v":0.125},{"i":39,"j":4,"v":0.125},{"i":40,"j":4,"v":0.125},{"i":41,"j":4,"v":0.125},{"i":42,"j":4,"v":0.125},{"i":43,"j":4,"v":-0.125},{"i":44,"j":4,"v":-0.125},{"i":45,"j":4,"v":-0.125},{"i":46,"j":4,"v":-0.125},{"i":47,"j":4,"v":-0.125},{"i":48,"j":4,"v":0.125},{"i":49,"j":4,"v":0.375},
{"i":14,"j":3,"v":0.375},{"i":15,"j":3,"v":0.375},{"i":16,"j":3,"v":0.375},{"i":17,"j":3,"v":0.125},{"i":18,"j":3,"v":0.125},{"i":19,"j":3,"v":0.125},{"i":20,"j":3,"v":0.125},{"i":21,"j":3,"v":0.375},{"i":22,"j":3,"v":0.125},{"i":23,"j":3,"v":0.125},{"i":24,"j":3,"v":0.125},{"i":25,"j":3,"v":0.125},{"i":26,"j":3,"v":0.125},{"i":27,"j":3,"v":0.125},{"i":28,"j":3,"v":0.125},{"i":29,"j":3,"v":0.375},{"i":30,"j":3,"v":0.125},{"i":31,"j":3,"v":0.375},{"i":32,"j":3,"v":0.125},{"i":33,"j":3,"v":0.375},{"i":34,"j":3,"v":0.125},{"i":35,"j":3,"v":0.125},{"i":36,"j":3,"v":0.125},{"i":37,"j":3,"v":0.125},{"i":38,"j":3,"v":0.125},{"i":39,"j":3,"v":0.125},{"i":40,"j":3,"v":0.125},{"i":41,"j":3,"v":0.125},{"i":42,"j":3,"v":0.125},{"i":43,"j":3,"v":0.125},{"i":44,"j":3,"v":0.125},{"i":45,"j":3,"v":-0.125},{"i":46,"j":3,"v":-0.125},{"i":47,"j":3,"v":-0.125},{"i":48,"j":3,"v":-0.125},{"i":49,"j":3,"v":0.375},
{"i":19,"j":2,"v":0.125},{"i":20,"j":2,"v":0.125},{"i":21,"j":2,"v":0.125},{"i":22,"j":2,"v":0.375},{"i":23,"j":2,"v":0.375},{"i":24,"j":2,"v":0.125},{"i":25,"j":2,"v":0.125},{"i":26,"j":2,"v":0.125},{"i":27,"j":2,"v":0.125},{"i":28,"j":2,"v":0.125},{"i":29,"j":2,"v":0.125},{"i":30,"j":2,"v":0.125},{"i":31,"j":2,"v":0.375},{"i":32,"j":2,"v":0.125},{"i":33,"j":2,"v":0.125},{"i":34,"j":2,"v":0.125},{"i":35,"j":2,"v":0.125},{"i":36,"j":2,"v":0.125},{"i":37,"j":2,"v":-0.125},{"i":38,"j":2,"v":-0.125},{"i":39,"j":2,"v":0.125},{"i":40,"j":2,"v":0.125},{"i":41,"j":2,"v":-0.125},{"i":42,"j":2,"v":0.125},{"i":43,"j":2,"v":0.125},{"i":44,"j":2,"v":0.125},{"i":45,"j":2,"v":-0.375},{"i":46,"j":2,"v":-0.125},{"i":47,"j":2,"v":-0.125},{"i":48,"j":2,"v":-0.125},
{"i":24,"j":1,"v":0.125},{"i":25,"j":1,"v":0.125},{"i":26,"j":1,"v":0.125},{"i":27,"j":1,"v":0.375},{"i":28,"j":1,"v":0.375},{"i":29,"j":1,"v":0.125},{"i":30,"j":1,"v":0.125},{"i":31,"j":1,"v":0.125},{"i":32,"j":1,"v":0.375},{"i":33,"j":1,"v":0.125},{"i":34,"j":1,"v":0.375},{"i":35,"j":1,"v":0.125},{"i":36,"j":1,"v":0.125},{"i":37,"j":1,"v":0.125},{"i":38,"j":1,"v":0.125},{"i":39,"j":1,"v":0.125},{"i":40,"j":1,"v":-0.125},{"i":41,"j":1,"v":0.125},{"i":42,"j":1,"v":0.125},{"i":43,"j":1,"v":0.125},{"i":44,"j":1,"v":0.125},
{"i":27,"j":0,"v":0.375},{"i":28,"j":0,"v":0.375},{"i":29,"j":0,"v":0.125},{"i":30,"j":0,"v":0.125},{"i":31,"j":0,"v":0.125},{"i":32,"j":0,"v":0.125},{"i":33,"j":0,"v":0.375},{"i":34,"j":0,"v":0.375},{"i":35,"j":0,"v":-0.125},{"i":36,"j":0,"v":-0.125},{"i":37,"j":0,"v":0.125},{"i":38,"j":0,"v":0.125},{"i":39,"j":0,"v":-0.125},{"i":40,"j":0,"v":-0.125}
],
"b":[
{"i":3,"j":49,"v":4500},{"i":4,"j":49,"v":4500},
{"i":2,"j":48,"v":4500},{"i":3,"j":48,"v":4500},{"i":4,"j":48,"v":4500},
{"i":2,"j":47,"v":4500},{"i":3,"j":47,"v":4500},{"i":4,"j":47,"v":4500},{"i":5,"j":47,"v":4500},
{"i":2,"j":46,"v":4500},{"i":3,"j":46,"v":4500},{"i":4,"j":46,"v":4500},{"i":5,"j":46,"v":4500},
{"i":1,"j":45,"v":4500},{"i":2,"j":45,"v":4500},{"i":3,"j":45,"v":4500},{"i":4,"j":45,"v":4500},{"i":5,"j":45,"v":4500},
{"i":1,"j":44,"v":4500},{"i":2,"j":44,"v":4500},{"i":3,"j":44,"v":4500},{"i":4,"j":44,"v":4500},{"i":5,"j":44,"v":4500},
{"i":1,"j":43,"v":4500},{"i":2,"j":43,"v":4500},{"i":3,"j":43,"v":4500},{"i":4,"j":43,"v":4500},{"i":5,"j":43,"v":4500},{"i":6,"j":43,"v":4500},
{"i":1,"j":42,"v":4500},{"i":2,"j":42,"v":4500},{"i":3,"j":42,"v":4500},{"i":4,"j":42,"v":4500},{"i":5,"j":42,"v":4500},{"i":6,"j":42,"v":4500},
{"i":1,"j":41,"v":4500},{"i":2,"j":41,"v":4500},{"i":3,"j":41,"v":4500},{"i":4,"j":41,"v":4500},{"i":5,"j":41,"v":4500},{"i":6,"j":41,"v":4500},
{"i":0,"j":40,"v":4500},{"i":1,"j":40,"v":4500},{"i":2,"j":40,"v":4500},{"i":3,"j":40,"v":4500},{"i":4,"j":40,"v":4500},{"i":5,"j":40,"v":4500},{"i":6,"j":40,"v":4500},
{"i":0,"j":39,"v":4500},{"i":1,"j":39,"v":3500},{"i":2,"j":39,"v":3500},{"i":3,"j":39,"v":3500},{"i":4,"j":39,"v":4500},{"i":5,"j":39,"v":3500},{"i":6,"j":39,"v":3500},
{"i":0,"j":38,"v":4500},{"i":1,"j":38,"v":4500},{"i":2,"j":38,"v":3500},{"i":3,"j":38,"v":3500},{"i":4,"j":38,"v":3500},{"i":5,"j":38,"v":4500},{"i":6,"j":38,"v":4500},
{"i":1,"j":37,"v":3500},{"i":2,"j":37,"v":3500},{"i":3,"j":37,"v":3500},{"i":4,"j":37,"v":3500},{"i":5,"j":37,"v":4500},{"i":6,"j":37,"v":3500},{"i":7,"j":37,"v":3500},
{"i":1,"j":36,"v":3500},{"i":2,"j":36,"v":3500},{"i":3,"j":36,"v":3500},{"i":4,"j":36,"v":3500},{"i":5,"j":36,"v":3500},{"i":6,"j":36,"v":3500},{"i":7,"j":36,"v":2500},
{"i":1,"j":35,"v":3500},{"i":2,"j":35,"v":3500},{"i":3,"j":35,"v":3500},{"i":4,"j":35,"v":3500},{"i":5,"j":35,"v":3500},{"i":6,"j":35,"v":3500},{"i":7,"j":35,"v":3500},{"i":8,"j":35,"v":1500},
{"i":0,"j":34,"v":3500},{"i":1,"j":34,"v":3500},{"i":2,"j":34,"v":3500},{"i":3,"j":34,"v":3500},{"i":4,"j":34,"v":3500},{"i":5,"j":34,"v":3500},{"i":6,"j":34,"v":3500},{"i":7,"j":34,"v":3500},{"i":8,"j":34,"v":2500},
{"i":0,"j":33,"v":3500},{"i":1,"j":33,"v":3500},{"i":2,"j":33,"v":3500},{"i":3,"j":33,"v":3500},{"i":4,"j":33,"v":3500},{"i":5,"j":33,"v":3500},{"i":6,"j":33,"v":3500},{"i":7,"j":33,"v":3500},{"i":8,"j":33,"v":2500},{"i":9,"j":33,"v":2500},{"i":10,"j":33,"v":2500},{"i":11,"j":33,"v":1500},
{"i":0,"j":32,"v":3500},{"i":1,"j":32,"v":3500},{"i":2,"j":32,"v":3500},{"i":3,"j":32,"v":3500},{"i":4,"j":32,"v":3500},{"i":5,"j":32,"v":3500},{"i":6,"j":32,"v":2500},{"i":7,"j":32,"v":2500},{"i":8,"j":32,"v":2500},{"i":9,"j":32,"v":2500},{"i":10,"j":32,"v":2500},{"i":11,"j":32,"v":2500},{"i":12,"j":32,"v":1500},
{"i":0,"j":31,"v":3500},{"i":1,"j":31,"v":2500},{"i":2,"j":31,"v":2500},{"i":3,"j":31,"v":3500},{"i":4,"j":31,"v":3500},{"i":5,"j":31,"v":3500},{"i":6,"j":31,"v":2500},{"i":7,"j":31,"v":2500},{"i":8,"j":31,"v":2500},{"i":9,"j":31,"v":2500},{"i":10,"j":31,"v":2500},{"i":11,"j":31,"v":2500},{"i":12,"j":31,"v":2500},{"i":13,"j":31,"v":1500},
{"i":0,"j":30,"v":3500},{"i":1,"j":30,"v":3500},{"i":2,"j":30,"v":3500},{"i":3,"j":30,"v":3500},{"i":4,"j":30,"v":3500},{"i":5,"j":30,"v":3500},{"i":6,"j":30,"v":2500},{"i":7,"j":30,"v":2500},{"i":8,"j":30,"v":2500},{"i":9,"j":30,"v":2500},{"i":10,"j":30,"v":2500},{"i":11,"j":30,"v":2500},{"i":12,"j":30,"v":2500},{"i":13,"j":30,"v":2500},{"i":14,"j":30,"v":1500},{"i":15,"j":30,"v":3500},
{"i":1,"j":29,"v":2500},{"i":2,"j":29,"v":3500},{"i":3,"j":29,"v":3500},{"i":4,"j":29,"v":3500},{"i":5,"j":29,"v":3500},{"i":6,"j":29,"v":2500},{"i":7,"j":29,"v":2500},{"i":8,"j":29,"v":2500},{"i":9,"j":29,"v":2500},{"i":10,"j":29,"v":2500},{"i":11,"j":29,"v":1500},{"i":12,"j":29,"v":2500},{"i":13,"j":29,"v":2500},{"i":14,"j":29,"v":2500},{"i":15,"j":29,"v":3500},{"i":16,"j":29,"v":1500},
{"i":1,"j":28,"v":2500},{"i":2,"j":28,"v":3500},{"i":3,"j":28,"v":3500},{"i":4,"j":28,"v":3500},{"i":5,"j":28,"v":3500},{"i":6,"j":28,"v":3500},{"i":7,"j":28,"v":2500},{"i":8,"j":28,"v":2500},{"i":9,"j":28,"v":2500},{"i":10,"j":28,"v":1500},{"i":11,"j":28,"v":1500},{"i":12,"j":28,"v":1500},{"i":13,"j":28,"v":2500},{"i":14,"j":28,"v":2500},{"i":15,"j":28,"v":1500},{"i":16,"j":28,"v":1500},{"i":17,"j":28,"v":2500},
{"i":2,"j":27,"v":3500},{"i":3,"j":27,"v":3500},{"i":4,"j":27,"v":3500},{"i":5,"j":27,"v":3500},{"i":6,"j":27,"v":3500},{"i":7,"j":27,"v":3500},{"i":8,"j":27,"v":2500},{"i":9,"j":27,"v":2500},{"i":10,"j":27,"v":2500},{"i":11,"j":27,"v":1500},{"i":12,"j":27,"v":1500},{"i":13,"j":27,"v":1500},{"i":14,"j":27,"v":1500},{"i":15,"j":27,"v":1500},{"i":16,"j":27,"v":1500},{"i":17,"j":27,"v":1500},
{"i":2,"j":26,"v":4500},{"i":3,"j":26,"v":3500},{"i":4,"j":26,"v":3500},{"i":5,"j":26,"v":3500},{"i":6,"j":26,"v":3500},{"i":7,"j":26,"v":3500},{"i":8,"j":26,"v":2500},{"i":9,"j":26,"v":2500},{"i":10,"j":26,"v":2500},{"i":11,"j":26,"v":1500},{"i":12,"j":26,"v":1500},{"i":13,"j":26,"v":1500},{"i":14,"j":26,"v":1500},{"i":15,"j":26,"v":1500},{"i":16,"j":26,"v":1500},{"i":17,"j":26,"v":1500},{"i":18,"j":26,"v":1500},{"i":19,"j":26,"v":1500},{"i":20,"j":26,"v":1500},
{"i":1,"j":25,"v":3500},{"i":2,"j":25,"v":3500},{"i":3,"j":25,"v":3500},{"i":4,"j":25,"v":3500},{"i":5,"j":25,"v":3500},{"i":6,"j":25,"v":3500},{"i":7,"j":25,"v":3500},{"i":8,"j":25,"v":2500},{"i":9,"j":25,"v":2500},{"i":10,"j":25,"v":2500},{"i":11,"j":25,"v":1500},{"i":12,"j":25,"v":1500},{"i":13,"j":25,"v":1500},{"i":14,"j":25,"v":1500},{"i":15,"j":25,"v":1500},{"i":16,"j":25,"v":1500},{"i":17,"j":25,"v":1500},{"i":18,"j":25,"v":1500},{"i":19,"j":25,"v":1500},{"i":20,"j":25,"v":1500},{"i":21,"j":25,"v":1500},
{"i":2,"j":24,"v":3500},{"i":3,"j":24,"v":3500},{"i":4,"j":24,"v":3500},{"i":5,"j":24,"v":3500},{"i":6,"j":24,"v":3500},{"i":7,"j":24,"v":3500},{"i":8,"j":24,"v":2500},{"i":9,"j":24,"v":2500},{"i":10,"j":24,"v":2500},{"i":11,"j":24,"v":1500},{"i":12,"j":24,"v":1500},{"i":13,"j":24,"v":1500},{"i":14,"j":24,"v":1500},{"i":15,"j":24,"v":1500},{"i":16,"j":24,"v":1500},{"i":17,"j":24,"v":1500},{"i":18,"j":24,"v":1500},{"i":19,"j":24,"v":1500},{"i":20,"j":24,"v":1500},{"i":21,"j":24,"v":1500},
{"i":3,"j":23,"v":3500},{"i":4,"j":23,"v":3500},{"i":5,"j":23,"v":3500},{"i":6,"j":23,"v":3500},{"i":7,"j":23,"v":3500},{"i":8,"j":23,"v":2500},{"i":9,"j":23,"v":2500},{"i":10,"j":23,"v":2500},{"i":11,"j":23,"v":2500},{"i":12,"j":23,"v":1500},{"i":13,"j":23,"v":1500},{"i":14,"j":23,"v":1500},{"i":15,"j":23,"v":1500},{"i":16,"j":23,"v":1500},{"i":17,"j":23,"v":1500},{"i":18,"j":23,"v":1500},{"i":19,"j":23,"v":1500},{"i":20,"j":23,"v":1500},{"i":21,"j":23,"v":1500},{"i":22,"j":23,"v":1500},
{"i":3,"j":22,"v":3500},{"i":4,"j":22,"v":3500},{"i":5,"j":22,"v":3500},{"i":6,"j":22,"v":3500},{"i":7,"j":22,"v":3500},{"i":8,"j":22,"v":2500},{"i":9,"j":22,"v":2500},{"i":10,"j":22,"v":2500},{"i":11,"j":22,"v":2500},{"i":12,"j":22,"v":1500},{"i":13,"j":22,"v":1500},{"i":14,"j":22,"v":1500},{"i":15,"j":22,"v":1500},{"i":16,"j":22,"v":1500},{"i":17,"j":22,"v":1500},{"i":18,"j":22,"v":1500},{"i":19,"j":22,"v":1500},{"i":20,"j":22,"v":1500},{"i":21,"j":22,"v":1500},{"i":22,"j":22,"v":1500},{"i":23,"j":22,"v":1500},
{"i":4,"j":21,"v":2500},{"i":5,"j":21,"v":3500},{"i":6,"j":21,"v":3500},{"i":7,"j":21,"v":3500},{"i":8,"j":21,"v":2500},{"i":9,"j":21,"v":2500},{"i":10,"j":21,"v":2500},{"i":11,"j":21,"v":2500},{"i":12,"j":21,"v":2500},{"i":13,"j":21,"v":1500},{"i":14,"j":21,"v":1500},{"i":15,"j":21,"v":1500},{"i":16,"j":21,"v":1500},{"i":17,"j":21,"v":1500},{"i":18,"j":21,"v":1500},{"i":19,"j":21,"v":1500},{"i":20,"j":21,"v":1500},{"i":21,"j":21,"v":1500},{"i":22,"j":21,"v":1500},{"i":23,"j":21,"v":1500},{"i":24,"j":21,"v":500},
{"i":4,"j":20,"v":3500},{"i":5,"j":20,"v":4500},{"i":6,"j":20,"v":3500},{"i":7,"j":20,"v":2500},{"i":8,"j":20,"v":2500},{"i":9,"j":20,"v":2500},{"i":10,"j":20,"v":2500},{"i":11,"j":20,"v":2500},{"i":12,"j":20,"v":2500},{"i":13,"j":20,"v":2500},{"i":14,"j":20,"v":1500},{"i":15,"j":20,"v":1500},{"i":16,"j":20,"v":1500},{"i":17,"j":20,"v":1500},{"i":18,"j":20,"v":1500},{"i":19,"j":20,"v":1500},{"i":20,"j":20,"v":1500},{"i":21,"j":20,"v":1500},{"i":22,"j":20,"v":1500},{"i":23,"j":20,"v":1500},{"i":24,"j":20,"v":1500},
{"i":5,"j":19,"v":4500},{"i":6,"j":19,"v":4500},{"i":7,"j":19,"v":4500},{"i":8,"j":19,"v":2500},{"i":9,"j":19,"v":2500},{"i":10,"j":19,"v":2500},{"i":11,"j":19,"v":2500},{"i":12,"j":19,"v":2500},{"i":13,"j":19,"v":2500},{"i":14,"j":19,"v":1500},{"i":15,"j":19,"v":1500},{"i":16,"j":19,"v":1500},{"i":17,"j":19,"v":1500},{"i":18,"j":19,"v":1500},{"i":19,"j":19,"v":1500},{"i":20,"j":19,"v":1500},{"i":21,"j":19,"v":1500},{"i":22,"j":19,"v":1500},{"i":23,"j":19,"v":1500},{"i":24,"j":19,"v":1500},{"i":25,"j":19,"v":1500},{"i":26,"j":19,"v":1500},
{"i":5,"j":18,"v":4500},{"i":6,"j":18,"v":4500},{"i":7,"j":18,"v":4500},{"i":8,"j":18,"v":4500},{"i":9,"j":18,"v":2500},{"i":10,"j":18,"v":2500},{"i":11,"j":18,"v":2500},{"i":12,"j":18,"v":2500},{"i":13,"j":18,"v":1500},{"i":14,"j":18,"v":1500},{"i":15,"j":18,"v":1500},{"i":16,"j":18,"v":1500},{"i":17,"j":18,"v":1500},{"i":18,"j":18,"v":1500},{"i":19,"j":18,"v":1500},{"i":20,"j":18,"v":1500},{"i":21,"j":18,"v":1500},{"i":22,"j":18,"v":1500},{"i":23,"j":18,"v":1500},{"i":24,"j":18,"v":500},{"i":25,"j":18,"v":500},{"i":26,"j":18,"v":500},{"i":27,"j":18,"v":500},{"i":28,"j":18,"v":500},
{"i":6,"j":17,"v":4500},{"i":7,"j":17,"v":4500},{"i":8,"j":17,"v":4500},{"i":9,"j":17,"v":4500},{"i":10,"j":17,"v":2500},{"i":11,"j":17,"v":1500},{"i":12,"j":17,"v":1500},{"i":13,"j":17,"v":1500},{"i":14,"j":17,"v":1500},{"i":15,"j":17,"v":1500},{"i":16,"j":17,"v":1500},{"i":17,"j":17,"v":1500},{"i":18,"j":17,"v":1500},{"i":19,"j":17,"v":1500},{"i":20,"j":17,"v":1500},{"i":21,"j":17,"v":1500},{"i":22,"j":17,"v":1500},{"i":23,"j":17,"v":1500},{"i":24,"j":17,"v":1500},{"i":25,"j":17,"v":500},{"i":26,"j":17,"v":500},{"i":27,"j":17,"v":500},{"i":28,"j":17,"v":500},{"i":29,"j":17,"v":500},
{"i":6,"j":16,"v":4500},{"i":7,"j":16,"v":4500},{"i":8,"j":16,"v":4500},{"i":9,"j":16,"v":4500},{"i":10,"j":16,"v":4500},{"i":11,"j":16,"v":1500},{"i":12,"j":16,"v":1500},{"i":13,"j":16,"v":1500},{"i":14,"j":16,"v":1500},{"i":15,"j":16,"v":1500},{"i":16,"j":16,"v":1500},{"i":17,"j":16,"v":1500},{"i":18,"j":16,"v":1500},{"i":19,"j":16,"v":1500},{"i":20,"j":16,"v":1500},{"i":21,"j":16,"v":1500},{"i":22,"j":16,"v":1500},{"i":23,"j":16,"v":1500},{"i":24,"j":16,"v":1500},{"i":25,"j":16,"v":500},{"i":26,"j":16,"v":500},{"i":27,"j":16,"v":500},{"i":28,"j":16,"v":500},{"i":29,"j":16,"v":500},{"i":30,"j":16,"v":500},{"i":31,"j":16,"v":500},
{"i":6,"j":15,"v":4500},{"i":7,"j":15,"v":4500},{"i":8,"j":15,"v":4500},{"i":9,"j":15,"v":4500},{"i":10,"j":15,"v":4500},{"i":11,"j":15,"v":3500},{"i":12,"j":15,"v":1500},{"i":13,"j":15,"v":1500},{"i":14,"j":15,"v":1500},{"i":15,"j":15,"v":1500},{"i":16,"j":15,"v":1500},{"i":17,"j":15,"v":1500},{"i":18,"j":15,"v":1500},{"i":19,"j":15,"v":1500},{"i":20,"j":15,"v":1500},{"i":21,"j":15,"v":500},{"i":22,"j":15,"v":500},{"i":23,"j":15,"v":500},{"i":24,"j":15,"v":500},{"i":25,"j":15,"v":500},{"i":26,"j":15,"v":500},{"i":27,"j":15,"v":500},{"i":28,"j":15,"v":500},{"i":29,"j":15,"v":500},{"i":30,"j":15,"v":500},{"i":31,"j":15,"v":500},{"i":32,"j":15,"v":500},{"i":33,"j":15,"v":500},{"i":34,"j":15,"v":-500},
{"i":6,"j":14,"v":4500},{"i":7,"j":14,"v":4500},{"i":8,"j":14,"v":4500},{"i":9,"j":14,"v":4500},{"i":10,"j":14,"v":4500},{"i":11,"j":14,"v":4500},{"i":12,"j":14,"v":3500},{"i":13,"j":14,"v":1500},{"i":14,"j":14,"v":1500},{"i":15,"j":14,"v":500},{"i":16,"j":14,"v":1500},{"i":17,"j":14,"v":1500},{"i":18,"j":14,"v":1500},{"i":19,"j":14,"v":1500},{"i":20,"j":14,"v":1500},{"i":21,"j":14,"v":500},{"i":22,"j":14,"v":500},{"i":23,"j":14,"v":500},{"i":24,"j":14,"v":500},{"i":25,"j":14,"v":500},{"i":26,"j":14,"v":500},{"i":27,"j":14,"v":500},{"i":28,"j":14,"v":500},{"i":29,"j":14,"v":500},{"i":30,"j":14,"v":500},{"i":31,"j":14,"v":500},{"i":32,"j":14,"v":500},{"i":33,"j":14,"v":500},{"i":34,"j":14,"v":-500},{"i":35,"j":14,"v":-500},{"i":36,"j":14,"v":-1500},{"i":37,"j":14,"v":-1500},{"i":38,"j":14,"v":-1500},{"i":40,"j":14,"v":-500},
{"i":6,"j":13,"v":500},{"i":7,"j":13,"v":4500},{"i":8,"j":13,"v":4500},{"i":9,"j":13,"v":4500},{"i":10,"j":13,"v":4500},{"i":11,"j":13,"v":4500},{"i":12,"j":13,"v":4500},{"i":13,"j":13,"v":3500},{"i":14,"j":13,"v":500},{"i":15,"j":13,"v":500},{"i":16,"j":13,"v":500},{"i":17,"j":13,"v":500},{"i":18,"j":13,"v":1500},{"i":19,"j":13,"v":1500},{"i":20,"j":13,"v":1500},{"i":21,"j":13,"v":500},{"i":22,"j":13,"v":500},{"i":23,"j":13,"v":500},{"i":24,"j":13,"v":500},{"i":25,"j":13,"v":500},{"i":26,"j":13,"v":500},{"i":27,"j":13,"v":500},{"i":28,"j":13,"v":500},{"i":29,"j":13,"v":500},{"i":30,"j":13,"v":500},{"i":31,"j":13,"v":-500},{"i":32,"j":13,"v":500},{"i":33,"j":13,"v":-500},{"i":34,"j":13,"v":-500},{"i":35,"j":13,"v":-500},{"i":36,"j":13,"v":-500},{"i":37,"j":13,"v":-500},{"i":38,"j":13,"v":-500},{"i":39,"j":13,"v":-1500},{"i":40,"j":13,"v":-1500},
{"i":6,"j":12,"v":500},{"i":7,"j":12,"v":4500},{"i":8,"j":12,"v":4500},{"i":9,"j":12,"v":-500},{"i":10,"j":12,"v":-1500},{"i":11,"j":12,"v":-500},{"i":12,"j":12,"v":4500},{"i":13,"j":12,"v":3500},{"i":14,"j":12,"v":500},{"i":15,"j":12,"v":500},{"i":16,"j":12,"v":500},{"i":17,"j":12,"v":2500},{"i":18,"j":12,"v":1500},{"i":19,"j":12,"v":500},{"i":20,"j":12,"v":500},{"i":21,"j":12,"v":1500},{"i":22,"j":12,"v":500},{"i":23,"j":12,"v":500},{"i":24,"j":12,"v":500},{"i":25,"j":12,"v":500},{"i":26,"j":12,"v":500},{"i":27,"j":12,"v":500},{"i":28,"j":12,"v":500},{"i":29,"j":12,"v":500},{"i":30,"j":12,"v":500},{"i":31,"j":12,"v":500},{"i":32,"j":12,"v":500},{"i":33,"j":12,"v":-500},{"i":34,"j":12,"v":-500},{"i":35,"j":12,"v":-500},{"i":36,"j":12,"v":-500},{"i":37,"j":12,"v":-500},{"i":38,"j":12,"v":-1500},{"i":39,"j":12,"v":-1500},{"i":40,"j":12,"v":-1500},{"i":41,"j":12,"v":-2500},{"i":43,"j":12,"v":-2500},
{"i":6,"j":11,"v":500},{"i":7,"j":11,"v":500},{"i":8,"j":11,"v":4500},{"i":9,"j":11,"v":500},{"i":10,"j":11,"v":-1500},{"i":11,"j":11,"v":-1500},{"i":12,"j":11,"v":-1500},{"i":13,"j":11,"v":500},{"i":14,"j":11,"v":500},{"i":15,"j":11,"v":500},{"i":16,"j":11,"v":-1500},{"i":17,"j":11,"v":2500},{"i":18,"j":11,"v":3500},{"i":19,"j":11,"v":500},{"i":20,"j":11,"v":500},{"i":21,"j":11,"v":500},{"i":22,"j":11,"v":500},{"i":23,"j":11,"v":500},{"i":24,"j":11,"v":500},{"i":25,"j":11,"v":500},{"i":26,"j":11,"v":500},{"i":27,"j":11,"v":500},{"i":28,"j":11,"v":500},{"i":29,"j":11,"v":500},{"i":30,"j":11,"v":500},{"i":31,"j":11,"v":500},{"i":32,"j":11,"v":-500},{"i":33,"j":11,"v":-500},{"i":34,"j":11,"v":-500},{"i":35,"j":11,"v":-500},{"i":36,"j":11,"v":-500},{"i":37,"j":11,"v":-1500},{"i":38,"j":11,"v":-1500},{"i":39,"j":11,"v":-2500},{"i":40,"j":11,"v":-1500},{"i":41,"j":11,"v":-1500},{"i":42,"j":11,"v":-2500},
{"i":6,"j":10,"v":500},{"i":7,"j":10,"v":500},{"i":8,"j":10,"v":4500},{"i":9,"j":10,"v":-500},{"i":10,"j":10,"v":-1500},{"i":11,"j":10,"v":-1500},{"i":12,"j":10,"v":-1500},{"i":13,"j":10,"v":-2500},{"i":14,"j":10,"v":500},{"i":15,"j":10,"v":500},{"i":16,"j":10,"v":-1500},{"i":17,"j":10,"v":-2500},{"i":18,"j":10,"v":500},{"i":19,"j":10,"v":500},{"i":20,"j":10,"v":500},{"i":21,"j":10,"v":500},{"i":22,"j":10,"v":500},{"i":23,"j":10,"v":500},{"i":24,"j":10,"v":500},{"i":25,"j":10,"v":500},{"i":26,"j":10,"v":500},{"i":27,"j":10,"v":500},{"i":28,"j":10,"v":500},{"i":29,"j":10,"v":500},{"i":30,"j":10,"v":500},{"i":31,"j":10,"v":-500},{"i":32,"j":10,"v":-500},{"i":33,"j":10,"v":-500},{"i":34,"j":10,"v":-500},{"i":35,"j":10,"v":-500},{"i":36,"j":10,"v":-500},{"i":37,"j":10,"v":-500},{"i":38,"j":10,"v":-500},{"i":39,"j":10,"v":-1500},{"i":40,"j":10,"v":-1500},{"i":41,"j":10,"v":-2500},{"i":42,"j":10,"v":-3500},{"i":43,"j":10,"v":-2500},{"i":46,"j":10,"v":-2500},{"i":47,"j":10,"v":-2500},
{"i":6,"j":9,"v":-500},{"i":7,"j":9,"v":-500},{"i":8,"j":9,"v":-500},{"i":9,"j":9,"v":-500},{"i":10,"j":9,"v":-1500},{"i":11,"j":9,"v":-1500},{"i":12,"j":9,"v":-1500},{"i":13,"j":9,"v":-2500},{"i":14,"j":9,"v":-2500},{"i":15,"j":9,"v":-500},{"i":16,"j":9,"v":-2500},{"i":17,"j":9,"v":-2500},{"i":18,"j":9,"v":-2500},{"i":19,"j":9,"v":-2500},{"i":20,"j":9,"v":500},{"i":21,"j":9,"v":500},{"i":22,"j":9,"v":500},{"i":23,"j":9,"v":500},{"i":24,"j":9,"v":500},{"i":25,"j":9,"v":-500},{"i":26,"j":9,"v":-500},{"i":27,"j":9,"v":500},{"i":28,"j":9,"v":-500},{"i":29,"j":9,"v":-500},{"i":30,"j":9,"v":-500},{"i":31,"j":9,"v":-500},{"i":32,"j":9,"v":-500},{"i":33,"j":9,"v":-500},{"i":34,"j":9,"v":-1500},{"i":35,"j":9,"v":-500},{"i":36,"j":9,"v":-500},{"i":37,"j":9,"v":-500},{"i":38,"j":9,"v":-500},{"i":39,"j":9,"v":-1500},{"i":40,"j":9,"v":-1500},{"i":41,"j":9,"v":-1500},{"i":42,"j":9,"v":-2500},{"i":43,"j":9,"v":-2500},{"i":44,"j":9,"v":-2500},{"i":45,"j":9,"v":-2500},{"i":46,"j":9,"v":-2500},{"i":47,"j":9,"v":-3500},{"i":48,"j":9,"v":-3500},
{"i":7,"j":8,"v":-500},{"i":8,"j":8,"v":-500},{"i":9,"j":8,"v":-500},{"i":10,"j":8,"v":-1500},{"i":11,"j":8,"v":-1500},{"i":12,"j":8,"v":-1500},{"i":13,"j":8,"v":-2500},{"i":14,"j":8,"v":-2500},{"i":15,"j":8,"v":-2500},{"i":16,"j":8,"v":-2500},{"i":17,"j":8,"v":-2500},{"i":18,"j":8,"v":-2500},{"i":19,"j":8,"v":-2500},{"i":20,"j":8,"v":-2500},{"i":21,"j":8,"v":500},{"i":22,"j":8,"v":500},{"i":23,"j":8,"v":500},{"i":24,"j":8,"v":-500},{"i":25,"j":8,"v":-500},{"i":26,"j":8,"v":-500},{"i":27,"j":8,"v":-500},{"i":28,"j":8,"v":-500},{"i":29,"j":8,"v":-500},{"i":30,"j":8,"v":-500},{"i":31,"j":8,"v":-500},{"i":32,"j":8,"v":-500},{"i":33,"j":8,"v":-500},{"i":34,"j":8,"v":-500},{"i":35,"j":8,"v":-1500},{"i":36,"j":8,"v":-1500},{"i":37,"j":8,"v":-500},{"i":38,"j":8,"v":-1500},{"i":39,"j":8,"v":-1500},{"i":40,"j":8,"v":-1500},{"i":41,"j":8,"v":-2500},{"i":42,"j":8,"v":-2500},{"i":43,"j":8,"v":-2500},{"i":44,"j":8,"v":-2500},{"i":45,"j":8,"v":-2500},{"i":46,"j":8,"v":-2500},{"i":47,"j":8,"v":-3500},{"i":48,"j":8,"v":-3500},{"i":49,"j":8,"v":-4500},
{"i":8,"j":7,"v":-1500},{"i":9,"j":7,"v":-500},{"i":10,"j":7,"v":-500},{"i":11,"j":7,"v":-1500},{"i":12,"j":7,"v":-2500},{"i":13,"j":7,"v":-2500},{"i":14,"j":7,"v":-2500},{"i":15,"j":7,"v":-2500},{"i":16,"j":7,"v":-2500},{"i":17,"j":7,"v":-2500},{"i":18,"j":7,"v":-2500},{"i":19,"j":7,"v":-2500},{"i":20,"j":7,"v":-2500},{"i":21,"j":7,"v":500},{"i":22,"j":7,"v":500},{"i":23,"j":7,"v":-500},{"i":24,"j":7,"v":-500},{"i":25,"j":7,"v":-500},{"i":26,"j":7,"v":-500},{"i":27,"j":7,"v":-500},{"i":28,"j":7,"v":-500},{"i":29,"j":7,"v":-1500},{"i":30,"j":7,"v":-500},{"i":31,"j":7,"v":-500},{"i":32,"j":7,"v":-500},{"i":33,"j":7,"v":-500},{"i":34,"j":7,"v":-1500},{"i":35,"j":7,"v":-1500},{"i":36,"j":7,"v":-1500},{"i":37,"j":7,"v":-1500},{"i":38,"j":7,"v":-1500},{"i":39,"j":7,"v":-1500},{"i":40,"j":7,"v":-1500},{"i":41,"j":7,"v":-2500},{"i":42,"j":7,"v":-2500},{"i":43,"j":7,"v":-1500},{"i":44,"j":7,"v":-2500},{"i":45,"j":7,"v":-3500},{"i":46,"j":7,"v":-3500},{"i":47,"j":7,"v":-3500},{"i":48,"j":7,"v":-3500},{"i":49,"j":7,"v":-3500},
{"i":10,"j":6,"v":-2500},{"i":11,"j":6,"v":-2500},{"i":12,"j":6,"v":-2500},{"i":13,"j":6,"v":-2500},{"i":14,"j":6,"v":-3500},{"i":15,"j":6,"v":-3500},{"i":16,"j":6,"v":-3500},{"i":17,"j":6,"v":-2500},{"i":18,"j":6,"v":-2500},{"i":19,"j":6,"v":-3500},{"i":20,"j":6,"v":-3500},{"i":21,"j":6,"v":-2500},{"i":22,"j":6,"v":-1500},{"i":23,"j":6,"v":-500},{"i":24,"j":6,"v":-500},{"i":25,"j":6,"v":-500},{"i":26,"j":6,"v":-1500},{"i":27,"j":6,"v":-1500},{"i":28,"j":6,"v":-1500},{"i":29,"j":6,"v":-1500},{"i":30,"j":6,"v":-1500},{"i":31,"j":6,"v":-1500},{"i":32,"j":6,"v":-1500},{"i":33,"j":6,"v":-1500},{"i":34,"j":6,"v":-1500},{"i":35,"j":6,"v":-1500},{"i":36,"j":6,"v":-1500},{"i":37,"j":6,"v":-1500},{"i":38,"j":6,"v":-1500},{"i":39,"j":6,"v":-1500},{"i":40,"j":6,"v":-1500},{"i":41,"j":6,"v":-2500},{"i":42,"j":6,"v":-2500},{"i":43,"j":6,"v":-2500},{"i":44,"j":6,"v":-2500},{"i":45,"j":6,"v":-2500},{"i":46,"j":6,"v":-3500},{"i":47,"j":6,"v":-3500},{"i":48,"j":6,"v":-3500},{"i":49,"j":6,"v":-3500},
{"i":10,"j":5,"v":-1500},{"i":11,"j":5,"v":-2500},{"i":12,"j":5,"v":-2500},{"i":13,"j":5,"v":-2500},{"i":14,"j":5,"v":-3500},{"i":15,"j":5,"v":-3500},{"i":16,"j":5,"v":-3500},{"i":17,"j":5,"v":-3500},{"i":18,"j":5,"v":-3500},{"i":19,"j":5,"v":-3500},{"i":20,"j":5,"v":-3500},{"i":21,"j":5,"v":-3500},{"i":22,"j":5,"v":-2500},{"i":23,"j":5,"v":-3500},{"i":24,"j":5,"v":-3500},{"i":25,"j":5,"v":-3500},{"i":26,"j":5,"v":-2500},{"i":27,"j":5,"v":-2500},{"i":28,"j":5,"v":-3500},{"i":29,"j":5,"v":-2500},{"i":30,"j":5,"v":-2500},{"i":31,"j":5,"v":-2500},{"i":32,"j":5,"v":-2500},{"i":33,"j":5,"v":-3500},{"i":34,"j":5,"v":-2500},{"i":35,"j":5,"v":-2500},{"i":36,"j":5,"v":-2500},{"i":37,"j":5,"v":-2500},{"i":38,"j":5,"v":-2500},{"i":39,"j":5,"v":-3500},{"i":40,"j":5,"v":-3500},{"i":41,"j":5,"v":-2500},{"i":42,"j":5,"v":-2500},{"i":43,"j":5,"v":-3500},{"i":44,"j":5,"v":-3500},{"i":45,"j":5,"v":-3500},{"i":46,"j":5,"v":-3500},{"i":47,"j":5,"v":-3500},{"i":48,"j":5,"v":-3500},{"i":49,"j":5,"v":-3500},
{"i":11,"j":4,"v":-2500},{"i":12,"j":4,"v":-2500},{"i":13,"j":4,"v":-2500},{"i":14,"j":4,"v":-3500},{"i":15,"j":4,"v":-3500},{"i":16,"j":4,"v":-3500},{"i":17,"j":4,"v":-4500},{"i":18,"j":4,"v":-4500},{"i":19,"j":4,"v":-4500},{"i":20,"j":4,"v":-4500},{"i":21,"j":4,"v":-4500},{"i":22,"j":4,"v":-4500},{"i":23,"j":4,"v":-4500},{"i":24,"j":4,"v":-4500},{"i":25,"j":4,"v":-4500},{"i":26,"j":4,"v":-3500},{"i":27,"j":4,"v":-3500},{"i":28,"j":4,"v":-4500},{"i":29,"j":4,"v":-3500},{"i":30,"j":4,"v":-4500},{"i":31,"j":4,"v":-4500},{"i":32,"j":4,"v":-4500},{"i":33,"j":4,"v":-4500},{"i":34,"j":4,"v":-4500},{"i":35,"j":4,"v":-4500},{"i":36,"j":4,"v":-4500},{"i":37,"j":4,"v":-4500},{"i":38,"j":4,"v":-4500},{"i":39,"j":4,"v":-4500},{"i":40,"j":4,"v":-4500},{"i":41,"j":4,"v":-4500},{"i":42,"j":4,"v":-4500},{"i":43,"j":4,"v":-3500},{"i":44,"j":4,"v":-3500},{"i":45,"j":4,"v":-3500},{"i":46,"j":4,"v":-3500},{"i":47,"j":4,"v":-3500},{"i":48,"j":4,"v":-3500},{"i":49,"j":4,"v":-3500},
{"i":14,"j":3,"v":-3500},{"i":15,"j":3,"v":-3500},{"i":16,"j":3,"v":-4500},{"i":17,"j":3,"v":-4500},{"i":18,"j":3,"v":-4500},{"i":19,"j":3,"v":-4500},{"i":20,"j":3,"v":-4500},{"i":21,"j":3,"v":-4500},{"i":22,"j":3,"v":-4500},{"i":23,"j":3,"v":-4500},{"i":24,"j":3,"v":-4500},{"i":25,"j":3,"v":-4500},{"i":26,"j":3,"v":-4500},{"i":27,"j":3,"v":-2500},{"i":28,"j":3,"v":-4500},{"i":29,"j":3,"v":-4500},{"i":30,"j":3,"v":-4500},{"i":31,"j":3,"v":-4500},{"i":32,"j":3,"v":-4500},{"i":33,"j":3,"v":-4500},{"i":34,"j":3,"v":-4500},{"i":35,"j":3,"v":-4500},{"i":36,"j":3,"v":-4500},{"i":37,"j":3,"v":-4500},{"i":38,"j":3,"v":-3500},{"i":39,"j":3,"v":-4500},{"i":40,"j":3,"v":-4500},{"i":41,"j":3,"v":-4500},{"i":42,"j":3,"v":-4500},{"i":43,"j":3,"v":-4500},{"i":44,"j":3,"v":-3500},{"i":45,"j":3,"v":-3500},{"i":46,"j":3,"v":-4500},{"i":47,"j":3,"v":-4500},{"i":48,"j":3,"v":-4500},{"i":49,"j":3,"v":-4500},
{"i":19,"j":2,"v":-4500},{"i":20,"j":2,"v":-4500},{"i":21,"j":2,"v":-4500},{"i":22,"j":2,"v":-4500},{"i":23,"j":2,"v":-4500},{"i":24,"j":2,"v":-4500},{"i":25,"j":2,"v":-4500},{"i":26,"j":2,"v":-4500},{"i":27,"j":2,"v":-2500},{"i":28,"j":2,"v":-2500},{"i":29,"j":2,"v":-4500},{"i":30,"j":2,"v":-3500},{"i":31,"j":2,"v":-3500},{"i":32,"j":2,"v":-3500},{"i":33,"j":2,"v":-3500},{"i":34,"j":2,"v":-3500},{"i":35,"j":2,"v":-3500},{"i":36,"j":2,"v":-4500},{"i":37,"j":2,"v":-3500},{"i":38,"j":2,"v":-2500},{"i":39,"j":2,"v":-3500},{"i":40,"j":2,"v":-1500},{"i":41,"j":2,"v":-1500},{"i":42,"j":2,"v":-1500},{"i":43,"j":2,"v":-2500},{"i":44,"j":2,"v":-3500},{"i":45,"j":2,"v":-3500},{"i":46,"j":2,"v":-3500},{"i":47,"j":2,"v":-4500},{"i":48,"j":2,"v":-4500},
{"i":24,"j":1,"v":-4500},{"i":25,"j":1,"v":-4500},{"i":26,"j":1,"v":-1500},{"i":27,"j":1,"v":-2500},{"i":28,"j":1,"v":-4500},{"i":29,"j":1,"v":-4500},{"i":30,"j":1,"v":-3500},{"i":31,"j":1,"v":-3500},{"i":32,"j":1,"v":-3500},{"i":33,"j":1,"v":-3500},{"i":34,"j":1,"v":-3500},{"i":35,"j":1,"v":-2500},{"i":36,"j":1,"v":-3500},{"i":37,"j":1,"v":-2500},{"i":38,"j":1,"v":-3500},{"i":39,"j":1,"v":-1500},{"i":40,"j":1,"v":-1500},{"i":41,"j":1,"v":-2500},{"i":42,"j":1,"v":-1500},{"i":43,"j":1,"v":-1500},{"i":44,"j":1,"v":-1500},
{"i":27,"j":0,"v":-2500},{"i":28,"j":0,"v":-1500},{"i":29,"j":0,"v":-4500},{"i":30,"j":0,"v":-3500},{"i":31,"j":0,"v":-500},{"i":32,"j":0,"v":-3500},{"i":33,"j":0,"v":-3500},{"i":34,"j":0,"v":-4500},{"i":35,"j":0,"v":-4500},{"i":36,"j":0,"v":-500},{"i":37,"j":0,"v":-1500},{"i":38,"j":0,"v":-3500},{"i":39,"j":0,"v":-1500},{"i":40,"j":0,"v":-500}
]},
"concat":[
{"width":434,"height":357,"title":{"text":"(a)","anchor":"start","fontSize":18.5,"dx":-60,"offset":5,"frame":"group"},"resolve":{"axis":{"x":"independent"}},"layer":[
{"data":{"name":"a"},"transform":[{"lookup":"i","from":{"data":{"name":"xb"},"key":"i","fields":["x0","x1"]}},{"lookup":"j","from":{"data":{"name":"yb"},"key":"j","fields":["y0","y1"]}}],"mark":{"type":"rect","strokeWidth":0.6},"encoding":{"x":{"field":"x0","type":"quantitative","scale":{"type":"log","domain":[3,1000],"nice":false},"axis":{"orient":"bottom","values":[10,100,1000],"labels":false,"title":null,"grid":true,"gridColor":"#b0b0b0","gridWidth":1,"gridOpacity":1,"tickSize":5,"domain":false,"zindex":1}},"x2":{"field":"x1"},"y":{"field":"y0","type":"quantitative","scale":{"domain":[0,500],"nice":false,"zero":false},"axis":{"values":[0,100,200,300,400,500],"title":"DIAL O₃ VMR\u00a0\u00a0\u00a0/\u00a0\u00a0\u00a0[ppb]","titleFontSize":18,"labelFontSize":13.5,"titlePadding":18,"grid":true,"gridColor":"#b0b0b0","gridWidth":1,"gridOpacity":1,"tickSize":5,"domain":false,"zindex":1}},"y2":{"field":"y1"},"color":{"field":"v","type":"ordinal","scale":{"domain":[-1.125,-0.875,-0.625,-0.375,-0.125,0.125,0.375,0.625,0.875,1.125],"range":["#3b4cc0","#5b7ae5","#82a6fb","#aac7fd","#cfdaea","#ead5c9","#f7b79b","#f38f71","#dc5c4a","#b40426"]},"legend":null},"stroke":{"field":"v","type":"ordinal","scale":{"domain":[-1.125,-0.875,-0.625,-0.375,-0.125,0.125,0.375,0.625,0.875,1.125],"range":["#3b4cc0","#5b7ae5","#82a6fb","#aac7fd","#cfdaea","#ead5c9","#f7b79b","#f38f71","#dc5c4a","#b40426"]},"legend":null}}},
{"data":{"values":[{"p":10}]},"mark":{"type":"rule","opacity":0},"encoding":{"x":{"field":"p","type":"quantitative","scale":{"type":"log","domain":[3,1000],"nice":false},"axis":{"orient":"bottom","values":[3,4,5,6,7,8,9,20,30,40,50,60,70,80,90,200,300,400,500,600,700,800,900],"labels":false,"title":null,"grid":false,"tickSize":3,"domain":false,"zindex":1}}}},
{"data":{"values":[{"x0":3,"x1":1000,"y0":0,"y1":500}]},"mark":{"type":"rect","fill":null,"stroke":"black","strokeWidth":1},"encoding":{"x":{"field":"x0","type":"quantitative","axis":null},"x2":{"field":"x1"},"y":{"field":"y0","type":"quantitative"},"y2":{"field":"y1"}}}
]},
{"width":17,"height":357,"layer":[
{"data":{"values":[{"lo":-1.25,"hi":-1,"v":-1.125},{"lo":-1,"hi":-0.75,"v":-0.875},{"lo":-0.75,"hi":-0.5,"v":-0.625},{"lo":-0.5,"hi":-0.25,"v":-0.375},{"lo":-0.25,"hi":0,"v":-0.125},{"lo":0,"hi":0.25,"v":0.125},{"lo":0.25,"hi":0.5,"v":0.375},{"lo":0.5,"hi":0.75,"v":0.625},{"lo":0.75,"hi":1,"v":0.875},{"lo":1,"hi":1.25,"v":1.125}]},"mark":{"type":"rect","strokeWidth":0.6},"encoding":{"y":{"field":"lo","type":"quantitative","scale":{"domain":[-1.25,1.25],"nice":false,"zero":false},"axis":{"orient":"right","values":[-1,-0.75,-0.5,-0.25,0,0.25,0.5,0.75,1],"format":".2f","title":"Humidity bias\u00a0\u00a0\u00a0/ log₂(Qᴇʀᴀ/Qᴅɪᴀʟ)","titleFontSize":13.5,"titleAngle":270,"labelFontSize":12.5,"labelPadding":6,"titlePadding":23,"tickSize":5,"domain":false,"grid":false,"zindex":1}},"y2":{"field":"hi"},"color":{"field":"v","type":"ordinal","scale":{"domain":[-1.125,-0.875,-0.625,-0.375,-0.125,0.125,0.375,0.625,0.875,1.125],"range":["#3b4cc0","#5b7ae5","#82a6fb","#aac7fd","#cfdaea","#ead5c9","#f7b79b","#f38f71","#dc5c4a","#b40426"]},"legend":null},"stroke":{"field":"v","type":"ordinal","scale":{"domain":[-1.125,-0.875,-0.625,-0.375,-0.125,0.125,0.375,0.625,0.875,1.125],"range":["#3b4cc0","#5b7ae5","#82a6fb","#aac7fd","#cfdaea","#ead5c9","#f7b79b","#f38f71","#dc5c4a","#b40426"]},"legend":null}}},
{"data":{"values":[{"lo":-1.25,"hi":1.25}]},"mark":{"type":"rect","fill":null,"stroke":"black","strokeWidth":1},"encoding":{"y":{"field":"lo","type":"quantitative"},"y2":{"field":"hi"}}}
]},
{"width":434,"height":357,"title":{"text":"(b)","anchor":"start","fontSize":18.5,"dx":-60,"offset":5,"frame":"group"},"resolve":{"axis":{"x":"independent"}},"layer":[
{"data":{"name":"b"},"transform":[{"lookup":"i","from":{"data":{"name":"xb"},"key":"i","fields":["x0","x1"]}},{"lookup":"j","from":{"data":{"name":"yb"},"key":"j","fields":["y0","y1"]}}],"mark":{"type":"rect","strokeWidth":0.6},"encoding":{"x":{"field":"x0","type":"quantitative","scale":{"type":"log","domain":[3,1000],"nice":false},"axis":{"orient":"bottom","values":[10,100,1000],"labelExpr":"datum.value==10?'10¹':datum.value==100?'10²':'10³'","labelFontSize":13.5,"labelPadding":3,"title":"DIAL H₂O VMR\u00a0\u00a0\u00a0/\u00a0\u00a0\u00a0[ppm]","titleFontSize":18,"titlePadding":14,"grid":true,"gridColor":"#b0b0b0","gridWidth":1,"gridOpacity":1,"tickSize":5,"domain":false,"zindex":1}},"x2":{"field":"x1"},"y":{"field":"y0","type":"quantitative","scale":{"domain":[0,500],"nice":false,"zero":false},"axis":{"values":[0,100,200,300,400,500],"title":"DIAL O₃ VMR\u00a0\u00a0\u00a0/\u00a0\u00a0\u00a0[ppb]","titleFontSize":18,"labelFontSize":13.5,"titlePadding":18,"grid":true,"gridColor":"#b0b0b0","gridWidth":1,"gridOpacity":1,"tickSize":5,"domain":false,"zindex":1}},"y2":{"field":"y1"},"color":{"field":"v","type":"ordinal","scale":{"domain":[-4500,-3500,-2500,-1500,-500,500,1500,2500,3500,4500],"range":["#3b4cc0","#5b7ae5","#82a6fb","#aac7fd","#cfdaea","#ead5c9","#f7b79b","#f38f71","#dc5c4a","#b40426"]},"legend":null},"stroke":{"field":"v","type":"ordinal","scale":{"domain":[-4500,-3500,-2500,-1500,-500,500,1500,2500,3500,4500],"range":["#3b4cc0","#5b7ae5","#82a6fb","#aac7fd","#cfdaea","#ead5c9","#f7b79b","#f38f71","#dc5c4a","#b40426"]},"legend":null}}},
{"data":{"values":[{"p":10}]},"mark":{"type":"rule","opacity":0},"encoding":{"x":{"field":"p","type":"quantitative","scale":{"type":"log","domain":[3,1000],"nice":false},"axis":{"orient":"bottom","values":[3,4,5,6,7,8,9,20,30,40,50,60,70,80,90,200,300,400,500,600,700,800,900],"labels":false,"title":null,"grid":false,"tickSize":3,"domain":false,"zindex":1}}}},
{"data":{"values":[{"x0":3,"x1":1000,"y0":0,"y1":500}]},"mark":{"type":"rect","fill":null,"stroke":"black","strokeWidth":1},"encoding":{"x":{"field":"x0","type":"quantitative","axis":null},"x2":{"field":"x1"},"y":{"field":"y0","type":"quantitative"},"y2":{"field":"y1"}}}
]},
{"width":17,"height":357,"layer":[
{"data":{"values":[{"lo":-5000,"hi":-4000,"v":-4500},{"lo":-4000,"hi":-3000,"v":-3500},{"lo":-3000,"hi":-2000,"v":-2500},{"lo":-2000,"hi":-1000,"v":-1500},{"lo":-1000,"hi":0,"v":-500},{"lo":0,"hi":1000,"v":500},{"lo":1000,"hi":2000,"v":1500},{"lo":2000,"hi":3000,"v":2500},{"lo":3000,"hi":4000,"v":3500},{"lo":4000,"hi":5000,"v":4500}]},"mark":{"type":"rect","strokeWidth":0.6},"encoding":{"y":{"field":"lo","type":"quantitative","scale":{"domain":[-5000,5000],"nice":false,"zero":false},"axis":{"orient":"right","values":[-4000,-2000,0,2000,4000],"format":"d","title":"Tropopause relative height\u00a0\u00a0/ [m]","titleFontSize":14,"titleAngle":270,"labelFontSize":12,"labelPadding":6,"titlePadding":23,"tickSize":5,"domain":false,"grid":false,"zindex":1}},"y2":{"field":"hi"},"color":{"field":"v","type":"ordinal","scale":{"domain":[-4500,-3500,-2500,-1500,-500,500,1500,2500,3500,4500],"range":["#3b4cc0","#5b7ae5","#82a6fb","#aac7fd","#cfdaea","#ead5c9","#f7b79b","#f38f71","#dc5c4a","#b40426"]},"legend":null},"stroke":{"field":"v","type":"ordinal","scale":{"domain":[-4500,-3500,-2500,-1500,-500,500,1500,2500,3500,4500],"range":["#3b4cc0","#5b7ae5","#82a6fb","#aac7fd","#cfdaea","#ead5c9","#f7b79b","#f38f71","#dc5c4a","#b40426"]},"legend":null}}},
{"data":{"values":[{"lo":-5000,"hi":5000}]},"mark":{"type":"rect","fill":null,"stroke":"black","strokeWidth":1},"encoding":{"y":{"field":"lo","type":"quantitative"},"y2":{"field":"hi"}}}
]}
]}
